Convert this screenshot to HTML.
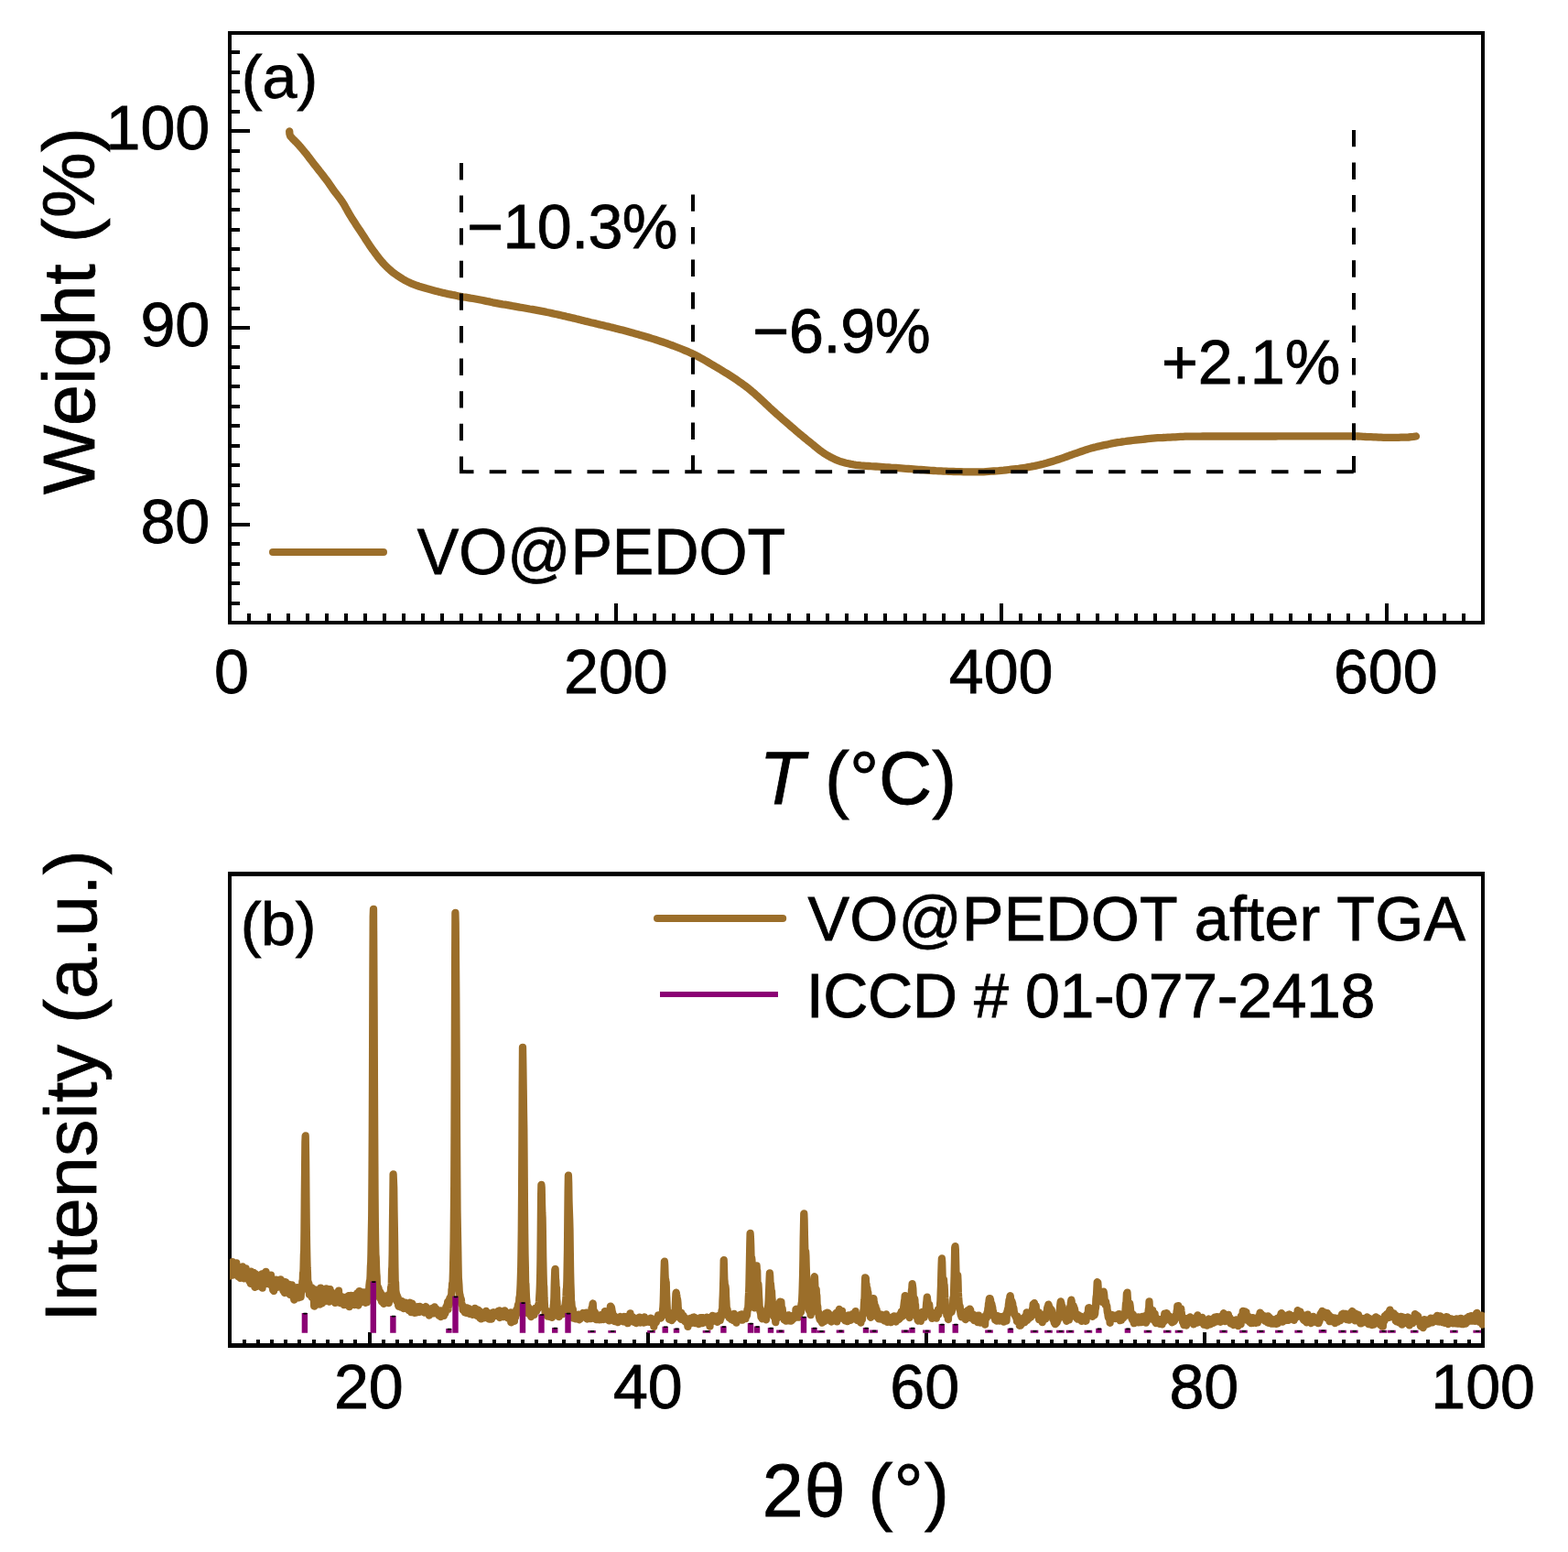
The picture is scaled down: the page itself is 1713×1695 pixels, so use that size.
<!DOCTYPE html>
<html lang="en">
<head>
<meta charset="utf-8">
<title>TGA and XRD of VO@PEDOT</title>
<style>
html,body{margin:0;padding:0;background:#fff;}
body{width:1713px;height:1695px;overflow:hidden;}
svg{display:block;}
svg text{font-family:"Liberation Sans", Arial, Helvetica, sans-serif;fill:#000;stroke:#000;stroke-width:0.8px;stroke-linejoin:miter;}
</style>
</head>
<body>
<svg width="1713" height="1695" viewBox="0 0 1713 1695">
<rect width="1713" height="1695" fill="#fff"/>
<g id="panel-a">
<path d="M316.2,143.4 316.4,146.2 317.2,148.7 319.1,150.8 321,152.8 322.9,154.7 324.8,156.7 326.7,158.7 328.5,160.8 330.3,162.9 332,165 333.8,167.1 335.5,169.2 337.1,171.4 338.8,173.6 340.5,175.8 342.1,177.9 343.8,180.1 345.5,182.2 347.2,184.4 348.9,186.6 350.6,188.7 352.3,190.9 354,193.1 355.6,195.2 357.3,197.4 358.9,199.7 360.4,201.9 362,204.2 363.5,206.4 365.1,208.7 366.8,210.8 368.5,213 370.2,215.2 371.8,217.3 373.4,219.6 374.9,221.9 376.3,224.2 377.6,226.6 379,229 380.3,231.4 381.7,233.8 383.1,236.1 384.5,238.5 386,240.8 387.5,243.1 389,245.4 390.5,247.7 392,250 393.5,252.2 395,254.5 396.5,256.8 398,259.1 399.5,261.5 401,263.8 402.5,266.1 404,268.3 405.6,270.6 407.1,272.8 408.8,275 410.4,277.2 412,279.4 413.7,281.6 415.4,283.8 417.2,285.9 419,287.9 420.9,289.9 422.8,291.8 424.8,293.7 426.9,295.5 429,297.3 431.2,298.9 433.4,300.5 435.7,302 438,303.5 440.4,305 442.8,306.4 445.2,307.6 447.7,308.8 450.1,309.9 452.7,310.9 455.2,311.8 457.9,312.7 460.5,313.5 463.1,314.3 465.8,315.1 468.4,315.8 471.1,316.5 473.7,317.2 476.4,317.9 479,318.6 481.7,319.2 484.4,319.9 487,320.5 489.7,321.1 492.4,321.6 495.1,322.2 497.8,322.7 500.4,323.3 503.1,323.8 505.8,324.3 508.5,324.7 511.2,325.1 514,325.6 516.7,326 519.4,326.5 522.1,327 524.7,327.5 527.4,328 530.1,328.6 532.8,329.2 535.5,329.7 538.2,330.3 540.9,330.8 543.6,331.3 546.3,331.8 549,332.3 551.7,332.7 554.4,333.2 557.1,333.7 559.8,334.2 562.5,334.6 565.2,335.1 567.9,335.6 570.6,336 573.3,336.5 576,337 578.7,337.5 581.4,337.9 584.1,338.4 586.7,338.9 589.4,339.4 592.1,339.9 594.8,340.4 597.5,341 600.2,341.5 602.9,342.1 605.5,342.7 608.2,343.3 610.9,343.9 613.6,344.5 616.2,345.1 618.9,345.8 621.6,346.4 624.3,347 626.9,347.6 629.6,348.3 632.3,348.9 634.9,349.6 637.6,350.2 640.2,350.9 642.9,351.5 645.6,352.2 648.2,352.8 650.9,353.4 653.6,354.1 656.2,354.7 658.9,355.3 661.6,356 664.2,356.6 666.9,357.3 669.6,357.9 672.2,358.6 674.9,359.2 677.5,359.9 680.2,360.6 682.8,361.3 685.5,362 688.1,362.7 690.8,363.4 693.4,364.2 696.1,364.9 698.7,365.7 701.3,366.4 703.9,367.2 706.6,368 709.2,368.8 711.8,369.6 714.4,370.4 717.1,371.3 719.7,372.1 722.3,373 724.9,373.8 727.4,374.7 730,375.7 732.6,376.6 735.2,377.5 737.7,378.5 740.3,379.5 742.9,380.5 745.4,381.5 748,382.6 750.5,383.6 753,384.8 755.5,385.9 757.9,387 760.4,388.3 762.8,389.5 765.2,390.8 767.6,392.1 770,393.5 772.4,394.9 774.8,396.3 777.1,397.7 779.5,399.1 781.8,400.5 784.2,401.9 786.5,403.3 788.9,404.8 791.2,406.2 793.6,407.6 795.9,409.1 798.2,410.6 800.5,412.1 802.8,413.6 805.1,415.1 807.3,416.7 809.6,418.2 811.8,419.8 814,421.4 816.2,423.1 818.3,424.8 820.4,426.5 822.5,428.3 824.6,430 826.6,431.9 828.6,433.7 830.7,435.6 832.7,437.4 834.7,439.3 836.7,441.2 838.7,443.1 840.7,445 842.7,446.8 844.7,448.7 846.8,450.5 848.8,452.4 850.9,454.2 853,456 855,457.8 857.1,459.6 859.2,461.4 861.2,463.2 863.3,465 865.4,466.8 867.5,468.5 869.5,470.3 871.6,472.1 873.7,473.9 875.8,475.6 877.9,477.4 880.1,479.1 882.2,480.9 884.3,482.6 886.4,484.3 888.6,486 890.7,487.8 892.8,489.5 895,491.3 897.2,492.9 899.4,494.5 901.7,496 904,497.3 906.4,498.7 908.9,500 911.4,501.2 913.9,502.4 916.4,503.4 919,504.3 921.6,505 924.2,505.7 926.9,506.3 929.6,506.9 932.3,507.4 935.1,507.8 937.8,508.1 940.5,508.4 943.2,508.6 946,508.8 948.7,509 951.4,509.2 954.2,509.3 956.9,509.5 959.6,509.7 962.4,509.9 965.1,510.1 967.8,510.3 970.6,510.5 973.3,510.7 976.1,510.8 978.8,511 981.5,511.2 984.3,511.4 987,511.6 989.7,511.8 992.5,512 995.2,512.2 997.9,512.4 1000.7,512.6 1003.4,512.8 1006.1,513 1008.9,513.2 1011.6,513.4 1014.3,513.6 1017.1,513.8 1019.8,514 1022.5,514.2 1025.3,514.3 1028,514.4 1030.7,514.6 1033.5,514.7 1036.2,514.8 1039,514.9 1041.7,515 1044.4,515.1 1047.2,515.2 1049.9,515.2 1052.7,515.3 1055.4,515.3 1058.1,515.3 1060.9,515.4 1063.6,515.4 1066.4,515.4 1069.1,515.4 1071.8,515.4 1074.6,515.3 1077.3,515.1 1080.1,514.9 1082.8,514.7 1085.5,514.5 1088.3,514.3 1091,514.1 1093.7,513.8 1096.4,513.6 1099.2,513.3 1101.9,513 1104.6,512.7 1107.4,512.4 1110.1,512.1 1112.8,511.8 1115.5,511.4 1118.2,511 1120.9,510.6 1123.6,510.1 1126.3,509.7 1129,509.2 1131.7,508.6 1134.4,508 1137.1,507.4 1139.7,506.8 1142.4,506.1 1145,505.3 1147.6,504.5 1150.3,503.7 1152.9,502.9 1155.5,502 1158.1,501.2 1160.7,500.3 1163.3,499.4 1165.8,498.5 1168.4,497.5 1171,496.6 1173.6,495.7 1176.2,494.8 1178.8,493.9 1181.4,493 1184,492.1 1186.6,491.2 1189.2,490.4 1191.8,489.6 1194.4,488.9 1197.1,488.3 1199.8,487.6 1202.4,487 1205.1,486.4 1207.8,485.8 1210.5,485.3 1213.2,484.7 1215.9,484.2 1218.6,483.7 1221.3,483.2 1224,482.8 1226.7,482.3 1229.4,482 1232.1,481.6 1234.8,481.3 1237.5,481 1240.3,480.7 1243,480.4 1245.7,480.1 1248.4,479.8 1251.2,479.5 1253.9,479.2 1256.6,478.9 1259.3,478.6 1262.1,478.4 1264.8,478.2 1267.5,478.1 1270.3,478 1273,477.8 1275.8,477.7 1278.5,477.6 1281.2,477.4 1284,477.3 1286.7,477.1 1289.5,476.9 1292.2,476.8 1294.9,476.7 1297.7,476.6 1300.4,476.6 1303.1,476.6 1305.9,476.6 1308.6,476.6 1311.4,476.6 1314.1,476.5 1316.8,476.5 1319.6,476.5 1322.3,476.5 1325.1,476.5 1327.8,476.5 1330.6,476.5 1333.3,476.5 1336,476.5 1338.8,476.5 1341.5,476.5 1344.3,476.5 1347,476.5 1349.7,476.5 1352.5,476.5 1355.2,476.5 1358,476.5 1360.7,476.5 1363.4,476.5 1366.2,476.5 1368.9,476.5 1371.7,476.5 1374.4,476.5 1377.2,476.5 1379.9,476.5 1382.6,476.5 1385.4,476.5 1388.1,476.5 1390.9,476.5 1393.6,476.5 1396.3,476.4 1399.1,476.4 1401.8,476.4 1404.6,476.4 1407.3,476.4 1410.1,476.4 1412.8,476.4 1415.5,476.4 1418.3,476.4 1421,476.4 1423.8,476.4 1426.5,476.4 1429.2,476.4 1432,476.4 1434.7,476.4 1437.5,476.4 1440.2,476.4 1442.9,476.4 1445.7,476.4 1448.4,476.4 1451.2,476.4 1453.9,476.4 1456.6,476.4 1459.4,476.4 1462.1,476.4 1464.9,476.4 1467.6,476.4 1470.3,476.4 1473.1,476.4 1475.8,476.4 1478.6,476.4 1481.3,476.4 1484,476.5 1486.8,476.6 1489.5,476.8 1492.3,477 1495,477.1 1497.7,477.2 1500.5,477.3 1503.2,477.4 1506,477.6 1508.7,477.7 1511.4,477.8 1514.2,477.8 1516.9,477.9 1519.7,477.9 1522.4,477.9 1525.1,477.9 1527.9,477.8 1530.6,477.7 1533.4,477.7 1536.1,477.6 1538.8,477.5 1541.6,477.2 1544.3,476.9 1547,476.5" fill="none" stroke="#9B6E2A" stroke-width="8.3" stroke-linecap="round" stroke-linejoin="round"/>
<path d="M504,178 V517.2" fill="none" stroke="#000" stroke-width="4" stroke-dasharray="18.4 17.2"/>
<path d="M757,212.4 V517.2" fill="none" stroke="#000" stroke-width="4" stroke-dasharray="18.4 17.2"/>
<path d="M1479,141.9 V517.2" fill="none" stroke="#000" stroke-width="4" stroke-dasharray="18.4 17.2"/>
<path d="M502,515.2 H1481" fill="none" stroke="#000" stroke-width="4" stroke-dasharray="18.4 17.2" stroke-dashoffset="2.9"/>
<path d="M272,680 v-10 M294,680 v-10 M315,680 v-10 M336,680 v-10 M357,680 v-10 M378,680 v-10 M399,680 v-10 M420,680 v-10 M441,680 v-10 M462,680 v-10 M483,680 v-10 M504,680 v-10 M525,680 v-10 M546,680 v-10 M567,680 v-10 M588,680 v-10 M609,680 v-10 M631,680 v-10 M652,680 v-10 M673,680 v-21 M694,680 v-10 M715,680 v-10 M736,680 v-10 M757,680 v-10 M778,680 v-10 M799,680 v-10 M820,680 v-10 M841,680 v-10 M862,680 v-10 M883,680 v-10 M904,680 v-10 M925,680 v-10 M946,680 v-10 M967,680 v-10 M989,680 v-10 M1010,680 v-10 M1031,680 v-10 M1052,680 v-10 M1073,680 v-10 M1094,680 v-21 M1115,680 v-10 M1136,680 v-10 M1157,680 v-10 M1178,680 v-10 M1199,680 v-10 M1220,680 v-10 M1241,680 v-10 M1262,680 v-10 M1283,680 v-10 M1304,680 v-10 M1326,680 v-10 M1347,680 v-10 M1368,680 v-10 M1389,680 v-10 M1410,680 v-10 M1431,680 v-10 M1452,680 v-10 M1473,680 v-10 M1494,680 v-10 M1515,680 v-21 M1536,680 v-10 M1557,680 v-10 M1578,680 v-10 M1599,680 v-10 M251,659 h11 M251,637 h11 M251,616 h11 M251,594 h11 M251,573 h22 M251,551 h11 M251,530 h11 M251,508 h11 M251,487 h11 M251,465 h11 M251,444 h11 M251,422 h11 M251,401 h11 M251,379 h11 M251,358 h22 M251,337 h11 M251,315 h11 M251,294 h11 M251,272 h11 M251,251 h11 M251,229 h11 M251,208 h11 M251,186 h11 M251,165 h11 M251,143 h22 M251,122 h11 M251,100 h11 M251,79 h11 M251,57 h11" fill="none" stroke="#000" stroke-width="4"/>
<rect x="251" y="36" width="1369" height="644" fill="none" stroke="#000" stroke-width="4"/>
<path d="M298,603 H419" stroke="#9B6E2A" stroke-width="8" stroke-linecap="round"/>
<text transform="translate(455.8,626.9) scale(1,1.027)" font-size="68.2" letter-spacing="-0.05">VO@PEDOT</text>
<text transform="translate(263.8,107.3) scale(1,0.987)" font-size="68.2">(a)</text>
<text transform="translate(510.2,271.3) scale(1,1.012)" font-size="68.2" letter-spacing="-0.58">−10.3%</text>
<text transform="translate(822.3,385.4) scale(1,1.012)" font-size="68.2" letter-spacing="-0.25">−6.9%</text>
<text transform="translate(1268.9,419.4) scale(1,1.012)" font-size="68.2" letter-spacing="0.07">+2.1%</text>
<text transform="translate(233.9,757.4) scale(1,1.012)" font-size="68.2">0</text>
<text transform="translate(616,757.4) scale(1,1.012)" font-size="68.2">200</text>
<text transform="translate(1036.7,757.4) scale(1,1.012)" font-size="68.2">400</text>
<text transform="translate(1456.9,757.4) scale(1,1.012)" font-size="68.2">600</text>
<text transform="translate(153.4,592.7) scale(1,1.012)" font-size="68.2">80</text>
<text transform="translate(153.4,378) scale(1,1.012)" font-size="68.2">90</text>
<text transform="translate(115.5,163.3) scale(1,1.012)" font-size="68.2">100</text>
<text transform="translate(937.3,877.9) scale(1,1.008)" font-size="80.6" text-anchor="middle"><tspan font-style="italic">T</tspan> (°C)</text>
<text transform="translate(103.4,539.9) rotate(-90) scale(1,0.994)" font-size="80.6" letter-spacing="0.42">Weight (%)</text>
</g>
<g id="panel-b">
<clipPath id="cb"><rect x="251" y="954.4" width="1371" height="515"/></clipPath>
<path d="M267,1469.4 v-6.3 M282,1469.4 v-6.3 M297,1469.4 v-6.3 M312,1469.4 v-6.3 M327,1469.4 v-6.3 M343,1469.4 v-6.3 M358,1469.4 v-6.3 M373,1469.4 v-6.3 M388,1469.4 v-6.3 M404,1469.4 v-14.4 M419,1469.4 v-6.3 M434,1469.4 v-6.3 M449,1469.4 v-6.3 M464,1469.4 v-6.3 M480,1469.4 v-6.3 M495,1469.4 v-6.3 M510,1469.4 v-6.3 M525,1469.4 v-6.3 M540,1469.4 v-6.3 M556,1469.4 v-6.3 M571,1469.4 v-6.3 M586,1469.4 v-6.3 M601,1469.4 v-6.3 M616,1469.4 v-6.3 M632,1469.4 v-6.3 M647,1469.4 v-6.3 M662,1469.4 v-6.3 M677,1469.4 v-6.3 M693,1469.4 v-6.3 M708,1469.4 v-14.4 M723,1469.4 v-6.3 M738,1469.4 v-6.3 M753,1469.4 v-6.3 M769,1469.4 v-6.3 M784,1469.4 v-6.3 M799,1469.4 v-6.3 M814,1469.4 v-6.3 M829,1469.4 v-6.3 M845,1469.4 v-6.3 M860,1469.4 v-6.3 M875,1469.4 v-6.3 M890,1469.4 v-6.3 M905,1469.4 v-6.3 M921,1469.4 v-6.3 M936,1469.4 v-6.3 M951,1469.4 v-6.3 M966,1469.4 v-6.3 M982,1469.4 v-6.3 M997,1469.4 v-6.3 M1012,1469.4 v-14.4 M1027,1469.4 v-6.3 M1042,1469.4 v-6.3 M1058,1469.4 v-6.3 M1073,1469.4 v-6.3 M1088,1469.4 v-6.3 M1103,1469.4 v-6.3 M1118,1469.4 v-6.3 M1134,1469.4 v-6.3 M1149,1469.4 v-6.3 M1164,1469.4 v-6.3 M1179,1469.4 v-6.3 M1194,1469.4 v-6.3 M1210,1469.4 v-6.3 M1225,1469.4 v-6.3 M1240,1469.4 v-6.3 M1255,1469.4 v-6.3 M1271,1469.4 v-6.3 M1286,1469.4 v-6.3 M1301,1469.4 v-6.3 M1316,1469.4 v-14.4 M1331,1469.4 v-6.3 M1347,1469.4 v-6.3 M1362,1469.4 v-6.3 M1377,1469.4 v-6.3 M1392,1469.4 v-6.3 M1407,1469.4 v-6.3 M1423,1469.4 v-6.3 M1438,1469.4 v-6.3 M1453,1469.4 v-6.3 M1468,1469.4 v-6.3 M1484,1469.4 v-6.3 M1499,1469.4 v-6.3 M1514,1469.4 v-6.3 M1529,1469.4 v-6.3 M1544,1469.4 v-6.3 M1560,1469.4 v-6.3 M1575,1469.4 v-6.3 M1590,1469.4 v-6.3 M1605,1469.4 v-6.3" fill="none" stroke="#000" stroke-width="4"/>
<path d="M251,952 V1472 M1620,952 V1472" fill="none" stroke="#000" stroke-width="4"/>
<path d="M249,954.5 H1622 M249,1469.5 H1622" fill="none" stroke="#000" stroke-width="5"/>
<path clip-path="url(#cb)" d="M251,1387.7 251.3,1393.5 251.6,1392.9 251.9,1385.3 252.2,1386.1 252.5,1384.9 252.8,1389.4 253.1,1386.4 253.4,1389.5 253.7,1378.1 254,1392.5 254.3,1385.1 254.7,1388.2 255,1384.5 255.3,1383.4 255.6,1387 255.9,1388.5 256.2,1384.3 256.5,1384.7 256.8,1388.5 257.1,1382.2 257.4,1379.8 257.7,1388.3 258,1384.2 258.3,1379.5 258.6,1384.6 258.9,1386.6 259.2,1384 259.5,1383.2 259.8,1390.1 260.1,1394 260.4,1389.7 260.7,1387.8 261,1392.7 261.3,1394.3 261.6,1390.2 262,1393.7 262.3,1395.8 262.6,1390.5 262.9,1387.9 263.2,1392.5 263.5,1392 263.8,1395.3 264.1,1385.3 264.4,1387.8 264.7,1387 265,1383.3 265.3,1390.9 265.6,1392.5 265.9,1387.5 266.2,1396.3 266.5,1394.2 266.8,1393.7 267.1,1393 267.4,1395.5 267.7,1386.5 268,1394.6 268.3,1394.8 268.6,1385.5 268.9,1394.2 269.3,1392.1 269.6,1396.4 269.9,1391.7 270.2,1393.7 270.5,1395.3 270.8,1390.7 271.1,1396.7 271.4,1394.1 271.7,1396.6 272,1392.6 272.3,1399.1 272.6,1397.2 272.9,1394.1 273.2,1397.3 273.5,1399.8 273.8,1401.9 274.1,1388.6 274.4,1398.4 274.7,1396.8 275,1394.7 275.3,1391.2 275.6,1400.2 275.9,1390.5 276.3,1397.9 276.6,1401 276.9,1389.9 277.2,1395.3 277.5,1391.7 277.8,1398.1 278.1,1403.4 278.4,1405.8 278.7,1391.2 279,1396.3 279.3,1401.6 279.6,1405.2 279.9,1401 280.2,1396.6 280.5,1400.8 280.8,1399.7 281.1,1399 281.4,1396.9 281.7,1401.2 282,1400.8 282.3,1399.1 282.6,1398.4 282.9,1394.1 283.2,1397 283.6,1403.2 283.9,1397.6 284.2,1392.5 284.5,1403 284.8,1399.7 285.1,1405.5 285.4,1397.5 285.7,1395.4 286,1391.5 286.3,1402 286.6,1406.7 286.9,1393.7 287.2,1394.4 287.5,1399.2 287.8,1393.8 288.1,1396 288.4,1395.7 288.7,1397.8 289,1401.2 289.3,1397.1 289.6,1400.5 289.9,1395.4 290.2,1398.2 290.5,1388.8 290.9,1391.4 291.2,1399.9 291.5,1394.6 291.8,1399.1 292.1,1399.1 292.4,1402.1 292.7,1400.3 293,1401.3 293.3,1397.2 293.6,1395.2 293.9,1395.3 294.2,1396.4 294.5,1394.3 294.8,1396.7 295.1,1398.7 295.4,1400.2 295.7,1398.3 296,1392.7 296.3,1399.8 296.6,1401.2 296.9,1404.7 297.2,1403 297.5,1398.7 297.9,1398.6 298.2,1408.9 298.5,1404.5 298.8,1408.6 299.1,1409.9 299.4,1399.2 299.7,1403.8 300,1404.2 300.3,1404.7 300.6,1404.8 300.9,1403.7 301.2,1403.7 301.5,1397.6 301.8,1402.5 302.1,1400.4 302.4,1403.6 302.7,1401.4 303,1405.3 303.3,1405.9 303.6,1403.9 303.9,1403.8 304.2,1402.8 304.5,1400.7 304.8,1401.6 305.2,1400.3 305.5,1403.4 305.8,1402.1 306.1,1404.1 306.4,1397.3 306.7,1405.4 307,1399.6 307.3,1399.9 307.6,1402.2 307.9,1401.1 308.2,1404.6 308.5,1401.8 308.8,1400.3 309.1,1401.5 309.4,1409.6 309.7,1405.2 310,1401.1 310.3,1405.5 310.6,1399.9 310.9,1412 311.2,1400.1 311.5,1407.3 311.8,1407.5 312.1,1400.4 312.5,1406.7 312.8,1409.1 313.1,1407.2 313.4,1406.5 313.7,1408.9 314,1406.2 314.3,1406.9 314.6,1405.3 314.9,1408.2 315.2,1402.7 315.5,1409.2 315.8,1404.8 316.1,1403.1 316.4,1408.8 316.7,1414 317,1411.9 317.3,1407.1 317.6,1412 317.9,1408.4 318.2,1410.2 318.5,1411.5 318.8,1403.3 319.1,1412.7 319.4,1408.7 319.8,1410.2 320.1,1407.7 320.4,1407.8 320.7,1410.1 321,1416.5 321.3,1419.5 321.6,1413.4 321.9,1417.3 322.2,1412.3 322.5,1406.2 322.8,1413.3 323.1,1414.1 323.4,1410.7 323.7,1413.1 324,1413.8 324.3,1408.5 324.6,1406.2 324.9,1410.6 325.2,1410.5 325.5,1409.9 325.8,1414.7 326.1,1417.4 326.4,1409.6 326.8,1413.6 327.1,1414.4 327.4,1413.4 327.7,1414.4 328,1408.8 328.3,1412.4 328.6,1416.6 328.9,1411.4 329.2,1405.3 329.5,1408.7 329.8,1409.8 330.1,1404.8 330.4,1399.2 330.7,1404.6 331,1390.5 331.3,1392.6 331.6,1384.2 331.9,1370.3 332.2,1366.5 332.5,1342.5 332.8,1306.1 333.1,1278 333.4,1247.1 333.7,1240.5 334.1,1267.8 334.4,1304.2 334.7,1336.4 335,1357.2 335.3,1372.3 335.6,1384.5 335.9,1389.1 336.2,1399.6 336.5,1399.5 336.8,1402.9 337.1,1406.1 337.4,1402 337.7,1404.7 338,1414 338.3,1410.5 338.6,1409 338.9,1411.8 339.2,1409.3 339.5,1412.4 339.8,1409.3 340.1,1412.9 340.4,1406.5 340.7,1416.9 341,1410.6 341.4,1407 341.7,1412 342,1411.7 342.3,1413.7 342.6,1409.5 342.9,1415.1 343.2,1426.6 343.5,1409.9 343.8,1415.7 344.1,1413.6 344.4,1415.5 344.7,1408.7 345,1411 345.3,1416.6 345.6,1414.8 345.9,1420.5 346.2,1412.4 346.5,1415.4 346.8,1424.7 347.1,1412.2 347.4,1411.7 347.7,1414.7 348,1414.7 348.4,1417.8 348.7,1415.5 349,1412.6 349.3,1416.1 349.6,1424.5 349.9,1420.1 350.2,1406.6 350.5,1415.7 350.8,1413.4 351.1,1418.6 351.4,1416.1 351.7,1423.3 352,1420.1 352.3,1420 352.6,1417.7 352.9,1417 353.2,1418.4 353.5,1421.6 353.8,1419 354.1,1416 354.4,1421.5 354.7,1417.8 355,1416.8 355.3,1414.4 355.7,1415 356,1414.7 356.3,1407.4 356.6,1420.1 356.9,1418.5 357.2,1415.8 357.5,1419.9 357.8,1417.8 358.1,1417.4 358.4,1407.8 358.7,1415.1 359,1417.5 359.3,1421 359.6,1421.7 359.9,1420.2 360.2,1411.6 360.5,1408.2 360.8,1417.5 361.1,1415.8 361.4,1419 361.7,1415.5 362,1416.9 362.3,1411.4 362.6,1418 363,1415.3 363.3,1418.1 363.6,1418.6 363.9,1416.8 364.2,1418.4 364.5,1417.4 364.8,1420 365.1,1419.1 365.4,1415.6 365.7,1415.3 366,1422.9 366.3,1416.6 366.6,1420 366.9,1417.9 367.2,1414.6 367.5,1413.9 367.8,1416.7 368.1,1417.2 368.4,1418.5 368.7,1412.4 369,1414.8 369.3,1416.6 369.6,1422.4 370,1409.6 370.3,1418.9 370.6,1415.8 370.9,1419.1 371.2,1416.2 371.5,1419.1 371.8,1423.1 372.1,1419.3 372.4,1419.7 372.7,1419.7 373,1416.2 373.3,1420.6 373.6,1418.4 373.9,1416.6 374.2,1419.3 374.5,1418.9 374.8,1422.3 375.1,1419.9 375.4,1418.5 375.7,1425.1 376,1423.7 376.3,1424.8 376.6,1422.8 376.9,1420.6 377.3,1419.7 377.6,1420.2 377.9,1424.2 378.2,1421.5 378.5,1416.4 378.8,1421 379.1,1416.5 379.4,1421.6 379.7,1417.1 380,1416.8 380.3,1421.2 380.6,1420.4 380.9,1415.1 381.2,1422.7 381.5,1427.1 381.8,1415.2 382.1,1425.7 382.4,1417.6 382.7,1418.1 383,1419 383.3,1414.9 383.6,1423.7 383.9,1421.2 384.2,1417.3 384.6,1418.9 384.9,1415.2 385.2,1419.1 385.5,1423.4 385.8,1415.1 386.1,1419.3 386.4,1421.2 386.7,1424.1 387,1425 387.3,1419 387.6,1417.9 387.9,1421.5 388.2,1418.6 388.5,1418.5 388.8,1422.7 389.1,1424.3 389.4,1419.6 389.7,1418 390,1420.3 390.3,1412.3 390.6,1418.1 390.9,1414.8 391.2,1425.6 391.6,1420.3 391.9,1418.5 392.2,1417.4 392.5,1410.1 392.8,1420.3 393.1,1423.2 393.4,1415.7 393.7,1420 394,1420 394.3,1412.6 394.6,1420.2 394.9,1421.3 395.2,1417.5 395.5,1416.4 395.8,1419 396.1,1411.7 396.4,1416.9 396.7,1420.1 397,1413.1 397.3,1420.5 397.6,1416.3 397.9,1411.4 398.2,1418.1 398.5,1415.7 398.9,1420.1 399.2,1415.7 399.5,1422.9 399.8,1417.2 400.1,1420.6 400.4,1417.4 400.7,1417.9 401,1422.2 401.3,1418.3 401.6,1415.5 401.9,1411.7 402.2,1418.3 402.5,1415.5 402.8,1410.5 403.1,1410.5 403.4,1404.1 403.7,1401.5 404,1398.8 404.3,1398.7 404.6,1393.3 404.9,1383 405.2,1379.3 405.5,1367.5 405.8,1348.6 406.2,1327.7 406.5,1286.8 406.8,1233.6 407.1,1158.2 407.4,1062.5 407.7,1001.1 408,992.9 408.3,1047.3 408.6,1101.4 408.9,1181.1 409.2,1243.6 409.5,1299.6 409.8,1334.5 410.1,1355.8 410.4,1370.3 410.7,1373.2 411,1383.9 411.3,1390.9 411.6,1394 411.9,1404.1 412.2,1403.9 412.5,1405.5 412.8,1408.9 413.2,1405.9 413.5,1407.3 413.8,1408.5 414.1,1413.6 414.4,1414 414.7,1415.5 415,1417.7 415.3,1411.2 415.6,1414.2 415.9,1416.8 416.2,1413 416.5,1415.9 416.8,1420.8 417.1,1421.5 417.4,1421.8 417.7,1419.2 418,1418.8 418.3,1422.7 418.6,1418.8 418.9,1421 419.2,1423.8 419.5,1419.2 419.8,1418.5 420.1,1420.1 420.5,1421.8 420.8,1421.4 421.1,1420.4 421.4,1421.5 421.7,1415.5 422,1417.4 422.3,1420.1 422.6,1417 422.9,1415.8 423.2,1416 423.5,1416.7 423.8,1418.6 424.1,1416.1 424.4,1419.3 424.7,1423 425,1417.8 425.3,1421.2 425.6,1418 425.9,1413.4 426.2,1414.7 426.5,1411.3 426.8,1414.1 427.1,1406.1 427.4,1409.3 427.8,1401.9 428.1,1386.8 428.4,1383.4 428.7,1368.5 429,1336.4 429.3,1312 429.6,1282.4 429.9,1290 430.2,1296.9 430.5,1322.3 430.8,1339.2 431.1,1359.1 431.4,1384.4 431.7,1400.8 432,1400.4 432.3,1409.4 432.6,1411.2 432.9,1412.8 433.2,1417.2 433.5,1421.3 433.8,1415.2 434.1,1420.7 434.4,1421 434.8,1417.3 435.1,1425.4 435.4,1426.6 435.7,1419.9 436,1426.8 436.3,1423 436.6,1422.7 436.9,1426.9 437.2,1424.1 437.5,1424.6 437.8,1427.6 438.1,1427.2 438.4,1426.5 438.7,1421.3 439,1421.1 439.3,1427.5 439.6,1422.9 439.9,1425.5 440.2,1422.8 440.5,1424.9 440.8,1422.4 441.1,1429.1 441.4,1423.2 441.7,1425.3 442.1,1425.3 442.4,1428.5 442.7,1422.7 443,1425.9 443.3,1425.5 443.6,1427.1 443.9,1427 444.2,1424.9 444.5,1426.4 444.8,1425 445.1,1426.9 445.4,1425.7 445.7,1424.6 446,1426 446.3,1427 446.6,1431.2 446.9,1425.4 447.2,1427.4 447.5,1430.1 447.8,1422.7 448.1,1423.6 448.4,1425 448.7,1427.5 449,1433.1 449.4,1428.9 449.7,1430.9 450,1428.1 450.3,1423.6 450.6,1424.1 450.9,1431.3 451.2,1429.8 451.5,1426.9 451.8,1432.3 452.1,1427 452.4,1432.9 452.7,1433.8 453,1429.5 453.3,1429 453.6,1433.3 453.9,1429.4 454.2,1433.6 454.5,1429.4 454.8,1433.5 455.1,1431.9 455.4,1430.7 455.7,1429.6 456,1431.7 456.3,1427.1 456.7,1430.1 457,1429.6 457.3,1431.5 457.6,1427.3 457.9,1433 458.2,1428.7 458.5,1426.8 458.8,1431.8 459.1,1432.3 459.4,1428.6 459.7,1427.2 460,1429.1 460.3,1427.7 460.6,1428.6 460.9,1432.4 461.2,1430.1 461.5,1429.6 461.8,1429.9 462.1,1429 462.4,1430.7 462.7,1430.6 463,1428 463.3,1428.9 463.7,1433.5 464,1429.5 464.3,1428.4 464.6,1433 464.9,1429 465.2,1427 465.5,1430.7 465.8,1427.9 466.1,1428.9 466.4,1430.9 466.7,1430.4 467,1429.5 467.3,1430.3 467.6,1430.6 467.9,1434.4 468.2,1430.9 468.5,1431.4 468.8,1436.6 469.1,1431.5 469.4,1435.5 469.7,1435 470,1432 470.3,1429.3 470.6,1432.7 471,1432.9 471.3,1433.3 471.6,1431.3 471.9,1433.3 472.2,1433.6 472.5,1428.7 472.8,1433.4 473.1,1430.9 473.4,1429.4 473.7,1430 474,1434.3 474.3,1432.7 474.6,1427.5 474.9,1431.3 475.2,1431.1 475.5,1431.2 475.8,1430.8 476.1,1429.2 476.4,1433.9 476.7,1430.6 477,1431.9 477.3,1431.7 477.6,1431.8 477.9,1435 478.3,1434.6 478.6,1432.9 478.9,1432.6 479.2,1433.8 479.5,1436.8 479.8,1435.3 480.1,1435.6 480.4,1434.6 480.7,1434.7 481,1435.6 481.3,1431.5 481.6,1438.1 481.9,1433.4 482.2,1433.7 482.5,1437.3 482.8,1435.1 483.1,1434.6 483.4,1433.4 483.7,1431.4 484,1434.8 484.3,1436.8 484.6,1432.6 484.9,1436.9 485.3,1431.9 485.6,1432.4 485.9,1434.6 486.2,1433.2 486.5,1434.1 486.8,1430.7 487.1,1429.5 487.4,1427.2 487.7,1427.7 488,1427.1 488.3,1425.5 488.6,1428 488.9,1425.1 489.2,1421.6 489.5,1429.9 489.8,1422.5 490.1,1421 490.4,1425.5 490.7,1424.8 491,1419.5 491.3,1418.1 491.6,1418.3 491.9,1421.8 492.2,1417.8 492.6,1415.5 492.9,1415.6 493.2,1416.3 493.5,1408.5 493.8,1407.8 494.1,1401.9 494.4,1404.8 494.7,1397.7 495,1387.2 495.3,1372.7 495.6,1357.6 495.9,1326.1 496.2,1294.8 496.5,1234.6 496.8,1153.5 497.1,1059 497.4,996.9 497.7,1008.4 498,1049.3 498.3,1088.7 498.6,1143 498.9,1218.1 499.2,1276.1 499.5,1321.8 499.9,1345.6 500.2,1361 500.5,1380 500.8,1395.7 501.1,1399.2 501.4,1403.3 501.7,1409.8 502,1412.2 502.3,1414.7 502.6,1414.7 502.9,1417.6 503.2,1419.3 503.5,1418.7 503.8,1418.8 504.1,1422.2 504.4,1424.7 504.7,1424.8 505,1425.2 505.3,1425.9 505.6,1430.7 505.9,1426.8 506.2,1429 506.5,1431.5 506.9,1428.4 507.2,1429.5 507.5,1431.5 507.8,1433.3 508.1,1431.1 508.4,1431.6 508.7,1431.4 509,1429.2 509.3,1433.8 509.6,1431.3 509.9,1428.5 510.2,1431.6 510.5,1428.6 510.8,1430 511.1,1432 511.4,1430.2 511.7,1434 512,1429.1 512.3,1432.5 512.6,1433.1 512.9,1435 513.2,1434.1 513.5,1432.8 513.8,1432.6 514.2,1432.4 514.5,1434.7 514.8,1431.2 515.1,1433.4 515.4,1432.1 515.7,1432.5 516,1431.4 516.3,1435.8 516.6,1430.4 516.9,1431.9 517.2,1431.9 517.5,1432.4 517.8,1432.1 518.1,1432.2 518.4,1433.4 518.7,1429 519,1432.2 519.3,1430.1 519.6,1433.2 519.9,1430.9 520.2,1431.7 520.5,1433.7 520.8,1436.7 521.1,1435.4 521.5,1434.9 521.8,1437.1 522.1,1432.7 522.4,1430.5 522.7,1433.6 523,1433.8 523.3,1436.7 523.6,1438.4 523.9,1432.1 524.2,1439.4 524.5,1437.9 524.8,1436.8 525.1,1436.2 525.4,1440.4 525.7,1436.3 526,1435.5 526.3,1436.9 526.6,1434.3 526.9,1438 527.2,1437 527.5,1437.8 527.8,1437.8 528.1,1435.1 528.5,1439.4 528.8,1434.9 529.1,1438.3 529.4,1433.5 529.7,1437 530,1434.7 530.3,1436.2 530.6,1434.9 530.9,1432 531.2,1434.1 531.5,1436.5 531.8,1437.7 532.1,1434 532.4,1433.1 532.7,1435.7 533,1437.2 533.3,1436.7 533.6,1436.7 533.9,1440 534.2,1440.5 534.5,1440.3 534.8,1437.4 535.1,1439.4 535.4,1438.8 535.8,1436.4 536.1,1440.6 536.4,1438.8 536.7,1437.4 537,1440.6 537.3,1439 537.6,1438.7 537.9,1438.9 538.2,1437.6 538.5,1433.4 538.8,1434.7 539.1,1437 539.4,1433.4 539.7,1434.6 540,1435.1 540.3,1436.9 540.6,1436.6 540.9,1435.8 541.2,1433.8 541.5,1435.8 541.8,1435.2 542.1,1434 542.4,1436.9 542.7,1435.4 543.1,1433.2 543.4,1437 543.7,1434.1 544,1435.7 544.3,1431.8 544.6,1434.6 544.9,1432.9 545.2,1433 545.5,1431.3 545.8,1439 546.1,1434.9 546.4,1435.8 546.7,1437.6 547,1435.4 547.3,1436.7 547.6,1433.4 547.9,1436.4 548.2,1435.4 548.5,1437.2 548.8,1436.7 549.1,1433.9 549.4,1433.2 549.7,1434.9 550.1,1438.2 550.4,1437.6 550.7,1437.5 551,1432.8 551.3,1431.3 551.6,1435 551.9,1435.3 552.2,1434.5 552.5,1436.1 552.8,1435 553.1,1433 553.4,1433.5 553.7,1435.3 554,1435.2 554.3,1435 554.6,1439.5 554.9,1434.9 555.2,1435.9 555.5,1434.1 555.8,1435.6 556.1,1437.7 556.4,1438.2 556.7,1437.4 557,1438.9 557.4,1438.8 557.7,1435.6 558,1433.4 558.3,1444.3 558.6,1441.8 558.9,1440.4 559.2,1437.4 559.5,1438.3 559.8,1443.3 560.1,1435.3 560.4,1439.8 560.7,1441.8 561,1440.1 561.3,1440.8 561.6,1438.6 561.9,1442.8 562.2,1435.6 562.5,1434.3 562.8,1436.8 563.1,1438.3 563.4,1434.8 563.7,1436.2 564,1432.3 564.3,1430.3 564.7,1434.5 565,1434 565.3,1433.1 565.6,1428.3 565.9,1425.8 566.2,1424.6 566.5,1425.2 566.8,1425.3 567.1,1423.3 567.4,1417.1 567.7,1417.7 568,1413.8 568.3,1409.4 568.6,1403.2 568.9,1394.6 569.2,1384.9 569.5,1367.3 569.8,1342.8 570.1,1303.4 570.4,1252.6 570.7,1188.4 571,1143.8 571.3,1161.6 571.7,1190.5 572,1214.5 572.3,1232.6 572.6,1270.2 572.9,1313.6 573.2,1347 573.5,1369.6 573.8,1382.7 574.1,1401.8 574.4,1402.4 574.7,1411 575,1417.5 575.3,1420.4 575.6,1423.5 575.9,1426 576.2,1428.8 576.5,1428.2 576.8,1434.5 577.1,1427.7 577.4,1430.9 577.7,1430.4 578,1430.6 578.3,1432.8 578.6,1435.5 579,1431.7 579.3,1432.1 579.6,1435.2 579.9,1435.2 580.2,1438.1 580.5,1436.5 580.8,1435.1 581.1,1434.1 581.4,1435.1 581.7,1434.3 582,1431.9 582.3,1434.2 582.6,1433.6 582.9,1433.1 583.2,1432.3 583.5,1435.9 583.8,1433.5 584.1,1433.5 584.4,1430.1 584.7,1428.9 585,1430.1 585.3,1430.8 585.6,1429.5 585.9,1429.6 586.3,1431.8 586.6,1430.3 586.9,1427.7 587.2,1428.5 587.5,1427.7 587.8,1428.8 588.1,1425.2 588.4,1425.8 588.7,1425.6 589,1421.5 589.3,1415.6 589.6,1410.5 589.9,1403.5 590.2,1391.6 590.5,1373.1 590.8,1342.9 591.1,1307.3 591.4,1293.9 591.7,1297.2 592,1314.2 592.3,1324.6 592.6,1330.1 592.9,1349 593.2,1372.2 593.6,1392.3 593.9,1403.2 594.2,1405.3 594.5,1417.5 594.8,1423.1 595.1,1428.2 595.4,1429.5 595.7,1434.9 596,1434.3 596.3,1435.3 596.6,1435.5 596.9,1431.7 597.2,1436.7 597.5,1436.8 597.8,1435.1 598.1,1437.5 598.4,1437.4 598.7,1435.9 599,1436.6 599.3,1436.4 599.6,1437.3 599.9,1436.1 600.2,1438 600.6,1433.3 600.9,1436.5 601.2,1433.8 601.5,1436 601.8,1437.8 602.1,1436.7 602.4,1436.3 602.7,1436.3 603,1438.8 603.3,1433.1 603.6,1436.2 603.9,1430.5 604.2,1431.1 604.5,1430.3 604.8,1425.3 605.1,1423 605.4,1417.3 605.7,1403.6 606,1394.6 606.3,1387 606.6,1386 606.9,1395.9 607.2,1398.4 607.5,1405.6 607.9,1406.3 608.2,1419.2 608.5,1421.1 608.8,1430.8 609.1,1431 609.4,1432.8 609.7,1434.7 610,1435.7 610.3,1437.2 610.6,1438.1 610.9,1434.2 611.2,1432.5 611.5,1429.7 611.8,1434 612.1,1436.1 612.4,1435.3 612.7,1434.7 613,1433.8 613.3,1433.1 613.6,1433.7 613.9,1434.9 614.2,1430.6 614.5,1435.3 614.8,1430.8 615.2,1433 615.5,1431.7 615.8,1431.7 616.1,1429.7 616.4,1428.8 616.7,1429.6 617,1426.8 617.3,1432.4 617.6,1425.1 617.9,1422.5 618.2,1420.1 618.5,1415.7 618.8,1408.3 619.1,1406.6 619.4,1398.9 619.7,1381.7 620,1365.2 620.3,1333.6 620.6,1302.7 620.9,1283.7 621.2,1292.2 621.5,1311.6 621.8,1321 622.2,1331.7 622.5,1343.1 622.8,1367.4 623.1,1388.8 623.4,1401.5 623.7,1409.7 624,1420.6 624.3,1421.9 624.6,1425.8 624.9,1427.8 625.2,1433.5 625.5,1432.9 625.8,1429.8 626.1,1436.5 626.4,1439.7 626.7,1439.7 627,1435.7 627.3,1437.4 627.6,1438.7 627.9,1439.8 628.2,1438.5 628.5,1436.7 628.8,1440.4 629.1,1440.3 629.5,1436.7 629.8,1438.5 630.1,1439.7 630.4,1439.1 630.7,1439.9 631,1440.3 631.3,1439.6 631.6,1438.1 631.9,1435.6 632.2,1439.1 632.5,1440.4 632.8,1441.3 633.1,1437.4 633.4,1437.3 633.7,1440.1 634,1440.1 634.3,1438.2 634.6,1439.1 634.9,1436.5 635.2,1439.1 635.5,1436.6 635.8,1437.9 636.1,1437.9 636.4,1437.2 636.8,1434 637.1,1436.2 637.4,1438.2 637.7,1437.3 638,1436.5 638.3,1437.9 638.6,1438.2 638.9,1438.3 639.2,1435.1 639.5,1436.5 639.8,1435.8 640.1,1434.8 640.4,1433.6 640.7,1436.2 641,1434.8 641.3,1440.5 641.6,1436.3 641.9,1436.1 642.2,1435.8 642.5,1440.1 642.8,1434.9 643.1,1436.4 643.4,1435.4 643.8,1436.7 644.1,1437 644.4,1439.2 644.7,1434.5 645,1437.2 645.3,1440.2 645.6,1435.9 645.9,1436 646.2,1433.6 646.5,1428.6 646.8,1430.9 647.1,1430.5 647.4,1425.4 647.7,1423.5 648,1429.5 648.3,1430.2 648.6,1432.4 648.9,1433.2 649.2,1432.7 649.5,1435.9 649.8,1433.1 650.1,1439.6 650.4,1438.6 650.7,1440.7 651.1,1441 651.4,1438.8 651.7,1439.3 652,1438.1 652.3,1436 652.6,1439.6 652.9,1440.2 653.2,1437.9 653.5,1441.2 653.8,1440.1 654.1,1440.7 654.4,1438.4 654.7,1436.6 655,1441.3 655.3,1441 655.6,1439.7 655.9,1439.1 656.2,1439.3 656.5,1439.5 656.8,1438.8 657.1,1435.9 657.4,1441 657.7,1436.7 658,1438.7 658.4,1438.7 658.7,1439.6 659,1436 659.3,1441 659.6,1439.8 659.9,1439.9 660.2,1440.6 660.5,1436.6 660.8,1432.1 661.1,1438.4 661.4,1440.1 661.7,1439.7 662,1436.6 662.3,1437.4 662.6,1438.2 662.9,1434.4 663.2,1436.6 663.5,1436.8 663.8,1441.1 664.1,1437.1 664.4,1441.4 664.7,1438.5 665,1435.3 665.4,1442.4 665.7,1435.8 666,1437.8 666.3,1438.3 666.6,1431.2 666.9,1426.7 667.2,1429.3 667.5,1428.1 667.8,1427.4 668.1,1428.7 668.4,1430.4 668.7,1433.6 669,1432.9 669.3,1436.7 669.6,1440.1 669.9,1440.5 670.2,1441.7 670.5,1442 670.8,1437.2 671.1,1443 671.4,1441.8 671.7,1441.4 672,1440 672.3,1439.4 672.7,1440.5 673,1442.7 673.3,1440.6 673.6,1441.3 673.9,1441.6 674.2,1443.8 674.5,1441.7 674.8,1441.7 675.1,1444.1 675.4,1440.7 675.7,1442 676,1438.6 676.3,1440.9 676.6,1440.3 676.9,1440.3 677.2,1439.1 677.5,1438 677.8,1439.4 678.1,1439.2 678.4,1442.1 678.7,1442.1 679,1438.4 679.3,1442 679.6,1440.1 680,1442 680.3,1440.4 680.6,1438.7 680.9,1443.3 681.2,1442.3 681.5,1439.2 681.8,1438 682.1,1440.5 682.4,1439.2 682.7,1440.7 683,1442.4 683.3,1443.9 683.6,1440.5 683.9,1443.6 684.2,1443.2 684.5,1440.2 684.8,1437.9 685.1,1442.5 685.4,1442 685.7,1445.2 686,1443.4 686.3,1442.2 686.6,1443.7 687,1438.6 687.3,1440.8 687.6,1439.8 687.9,1443.4 688.2,1441.1 688.5,1434.4 688.8,1442.4 689.1,1438.2 689.4,1441.2 689.7,1438.9 690,1440.2 690.3,1440.9 690.6,1440.1 690.9,1438 691.2,1442.3 691.5,1440.6 691.8,1439.9 692.1,1441.4 692.4,1439.4 692.7,1444 693,1441.2 693.3,1441.8 693.6,1442 693.9,1440 694.3,1439.8 694.6,1442.6 694.9,1443.1 695.2,1445.1 695.5,1443.6 695.8,1440.8 696.1,1443.8 696.4,1444.2 696.7,1444.4 697,1443 697.3,1440 697.6,1444.2 697.9,1440.5 698.2,1442.7 698.5,1438.6 698.8,1442.8 699.1,1439.9 699.4,1443.2 699.7,1444.5 700,1443.4 700.3,1439.1 700.6,1439.5 700.9,1439.7 701.2,1442.5 701.6,1441.9 701.9,1441.6 702.2,1441.9 702.5,1442.5 702.8,1442.6 703.1,1444.6 703.4,1441.4 703.7,1442 704,1438.3 704.3,1439.3 704.6,1440.5 704.9,1439.7 705.2,1442.4 705.5,1444 705.8,1441.3 706.1,1441.2 706.4,1441.1 706.7,1442.1 707,1440.8 707.3,1442.4 707.6,1442 707.9,1441.8 708.2,1442.4 708.6,1440.9 708.9,1440.9 709.2,1443.8 709.5,1440.4 709.8,1442 710.1,1440.7 710.4,1439.9 710.7,1440 711,1439.6 711.3,1441.4 711.6,1440.5 711.9,1441.2 712.2,1444.5 712.5,1442.4 712.8,1445.1 713.1,1443.7 713.4,1445.1 713.7,1442.5 714,1444.1 714.3,1448.8 714.6,1445.5 714.9,1445.8 715.2,1444.4 715.5,1445.4 715.9,1441.5 716.2,1441.8 716.5,1443.9 716.8,1444.3 717.1,1441.6 717.4,1441.6 717.7,1440.8 718,1440.7 718.3,1438.4 718.6,1437.6 718.9,1439.7 719.2,1436.3 719.5,1437.5 719.8,1437.9 720.1,1437 720.4,1439.3 720.7,1438 721,1438.6 721.3,1436.9 721.6,1437.3 721.9,1439.6 722.2,1439.1 722.5,1437.2 722.8,1438.2 723.2,1437 723.5,1435.7 723.8,1436.7 724.1,1430.1 724.4,1427.9 724.7,1422.1 725,1412 725.3,1397.5 725.6,1387 725.9,1377.7 726.2,1381.6 726.5,1391.4 726.8,1397.8 727.1,1397.2 727.4,1400 727.7,1400.1 728,1412.5 728.3,1417.5 728.6,1425.8 728.9,1431.9 729.2,1432.6 729.5,1434 729.8,1437.1 730.1,1436.4 730.5,1436.7 730.8,1437 731.1,1440.8 731.4,1439.3 731.7,1439 732,1435.9 732.3,1439.3 732.6,1435.8 732.9,1439.2 733.2,1436.2 733.5,1442 733.8,1435.2 734.1,1440.6 734.4,1439.8 734.7,1434.8 735,1437.5 735.3,1440.4 735.6,1439.5 735.9,1433.8 736.2,1435.4 736.5,1433.3 736.8,1432.4 737.1,1431.5 737.5,1433.8 737.8,1426.5 738.1,1420 738.4,1413.2 738.7,1411.6 739,1413.7 739.3,1415 739.6,1423 739.9,1418.5 740.2,1420.1 740.5,1423.4 740.8,1429.8 741.1,1429.5 741.4,1433.5 741.7,1437.3 742,1437.2 742.3,1438.9 742.6,1439.2 742.9,1438 743.2,1438.9 743.5,1439.5 743.8,1437.8 744.1,1440.8 744.4,1434 744.8,1435.9 745.1,1440.3 745.4,1438.4 745.7,1436.4 746,1438.4 746.3,1439.9 746.6,1437.2 746.9,1440.1 747.2,1438.9 747.5,1439.5 747.8,1440.2 748.1,1443 748.4,1439.5 748.7,1441.4 749,1443.8 749.3,1440.7 749.6,1440.4 749.9,1444.6 750.2,1443.7 750.5,1443.5 750.8,1444 751.1,1441.9 751.4,1448.9 751.7,1441.6 752.1,1442.5 752.4,1440.5 752.7,1442.2 753,1445.6 753.3,1442.6 753.6,1443.5 753.9,1441.4 754.2,1445.4 754.5,1442.3 754.8,1439.6 755.1,1443.3 755.4,1441.1 755.7,1442.8 756,1441.8 756.3,1442 756.6,1441.6 756.9,1439.7 757.2,1438.6 757.5,1443.2 757.8,1441.3 758.1,1442.2 758.4,1441.1 758.7,1438.5 759.1,1440.1 759.4,1445.2 759.7,1441.4 760,1442.4 760.3,1440.5 760.6,1442.4 760.9,1442.8 761.2,1443.1 761.5,1443.3 761.8,1442.3 762.1,1442.3 762.4,1443.3 762.7,1443.8 763,1442.8 763.3,1446.1 763.6,1443.1 763.9,1442.9 764.2,1441.2 764.5,1444.1 764.8,1440.3 765.1,1439.1 765.4,1440.3 765.7,1443.2 766,1440 766.4,1444.4 766.7,1442 767,1439.2 767.3,1441.5 767.6,1445.1 767.9,1440.1 768.2,1439.1 768.5,1442.3 768.8,1443.6 769.1,1442.9 769.4,1440.3 769.7,1441.1 770,1441.2 770.3,1442.6 770.6,1444.2 770.9,1440 771.2,1442.5 771.5,1439.5 771.8,1441.3 772.1,1438.7 772.4,1439.2 772.7,1441.7 773,1439.6 773.3,1443.2 773.7,1441 774,1442.4 774.3,1442.4 774.6,1442.1 774.9,1443.1 775.2,1444.9 775.5,1448.7 775.8,1440.7 776.1,1443.4 776.4,1442.3 776.7,1440.6 777,1442.5 777.3,1440.1 777.6,1441.2 777.9,1443.3 778.2,1437 778.5,1440.9 778.8,1441.1 779.1,1438.3 779.4,1441 779.7,1440.6 780,1439.3 780.3,1442.3 780.7,1437.7 781,1441.4 781.3,1439.9 781.6,1438.5 781.9,1440.2 782.2,1439.9 782.5,1442.2 782.8,1437.9 783.1,1440.4 783.4,1440 783.7,1443.8 784,1438.9 784.3,1443 784.6,1437.7 784.9,1441.5 785.2,1440.5 785.5,1441.3 785.8,1439.1 786.1,1436.5 786.4,1436.9 786.7,1442 787,1439.4 787.3,1436.8 787.6,1439.4 788,1435.2 788.3,1433.9 788.6,1431.1 788.9,1433.4 789.2,1431.4 789.5,1420.1 789.8,1414.6 790.1,1404.5 790.4,1393.6 790.7,1376.2 791,1386.3 791.3,1397.3 791.6,1399.7 791.9,1405.6 792.2,1403.7 792.5,1405 792.8,1407.6 793.1,1417.3 793.4,1421.4 793.7,1428.1 794,1430 794.3,1430.8 794.6,1430 794.9,1436.8 795.3,1436.4 795.6,1436.4 795.9,1433.9 796.2,1434.9 796.5,1439 796.8,1437.7 797.1,1435 797.4,1437.1 797.7,1437.7 798,1437.4 798.3,1436.4 798.6,1440.8 798.9,1439.9 799.2,1438.6 799.5,1436.3 799.8,1438.3 800.1,1439.5 800.4,1441.3 800.7,1439.1 801,1441.9 801.3,1440.2 801.6,1438.6 801.9,1434.9 802.3,1437.9 802.6,1437.4 802.9,1439.9 803.2,1440.8 803.5,1442.8 803.8,1440.2 804.1,1438.1 804.4,1444.7 804.7,1440.8 805,1439.7 805.3,1439.5 805.6,1437.3 805.9,1440.8 806.2,1440.1 806.5,1442.1 806.8,1441 807.1,1440.3 807.4,1440.9 807.7,1437.9 808,1437.5 808.3,1438.2 808.6,1436 808.9,1438.2 809.2,1437.9 809.6,1439.9 809.9,1438.7 810.2,1435.3 810.5,1439 810.8,1441.7 811.1,1435.6 811.4,1437.6 811.7,1439.1 812,1436.5 812.3,1438 812.6,1439.1 812.9,1436.4 813.2,1439.3 813.5,1439.4 813.8,1436.1 814.1,1438.4 814.4,1440.2 814.7,1437.5 815,1438.3 815.3,1438.1 815.6,1435.6 815.9,1437 816.2,1434.5 816.5,1430.1 816.9,1430.9 817.2,1428.7 817.5,1424.8 817.8,1416.7 818.1,1412 818.4,1404.3 818.7,1388.8 819,1374.7 819.3,1358.8 819.6,1347 819.9,1351.8 820.2,1359.7 820.5,1371.8 820.8,1373.6 821.1,1373.5 821.4,1376.1 821.7,1382 822,1392.7 822.3,1402.6 822.6,1407 822.9,1413.8 823.2,1419.7 823.5,1422.3 823.9,1422.8 824.2,1428.3 824.5,1424.6 824.8,1420.4 825.1,1419 825.4,1415.4 825.7,1406.2 826,1392.4 826.3,1387.2 826.6,1382.4 826.9,1389.7 827.2,1387.9 827.5,1401.5 827.8,1401.1 828.1,1404.3 828.4,1402.6 828.7,1407.3 829,1415.4 829.3,1419.5 829.6,1426.6 829.9,1428.1 830.2,1430.2 830.5,1432.6 830.8,1433.4 831.2,1435.1 831.5,1438.6 831.8,1434.2 832.1,1433.5 832.4,1436.9 832.7,1440.3 833,1439.1 833.3,1439.7 833.6,1439.6 833.9,1435.9 834.2,1437.6 834.5,1432.3 834.8,1436.2 835.1,1438.4 835.4,1434.2 835.7,1433.1 836,1434.4 836.3,1437.2 836.6,1438.8 836.9,1441.3 837.2,1438.8 837.5,1432.6 837.8,1430.5 838.1,1434.5 838.5,1435.1 838.8,1428.1 839.1,1427.7 839.4,1424.3 839.7,1420.1 840,1412.6 840.3,1405.1 840.6,1397.3 840.9,1390.4 841.2,1393.9 841.5,1402.6 841.8,1401.5 842.1,1404.2 842.4,1407.9 842.7,1410.9 843,1409.9 843.3,1416.8 843.6,1419.4 843.9,1426.5 844.2,1426.9 844.5,1432.1 844.8,1433.5 845.1,1435 845.5,1438.1 845.8,1438.4 846.1,1436 846.4,1439.4 846.7,1435 847,1440.5 847.3,1444.1 847.6,1439.9 847.9,1439.9 848.2,1439 848.5,1440.3 848.8,1437.6 849.1,1439.4 849.4,1437.2 849.7,1436.4 850,1436.7 850.3,1435.3 850.6,1430.7 850.9,1436.3 851.2,1429.9 851.5,1423.1 851.8,1425.5 852.1,1421.7 852.4,1422.9 852.8,1426.2 853.1,1425 853.4,1421.9 853.7,1427.8 854,1428.5 854.3,1430.8 854.6,1429 854.9,1432 855.2,1435 855.5,1435 855.8,1436.1 856.1,1437.8 856.4,1436.1 856.7,1441.5 857,1437.2 857.3,1439.4 857.6,1439 857.9,1438.5 858.2,1441 858.5,1441.9 858.8,1442.7 859.1,1441 859.4,1439 859.7,1441.3 860.1,1436.8 860.4,1439.4 860.7,1440.2 861,1440.2 861.3,1436.9 861.6,1436.3 861.9,1442.3 862.2,1438.4 862.5,1436.5 862.8,1437.5 863.1,1440.1 863.4,1442.4 863.7,1440.4 864,1442.7 864.3,1441 864.6,1441.4 864.9,1442.3 865.2,1439.7 865.5,1440.8 865.8,1439.2 866.1,1438.4 866.4,1440.5 866.7,1437.3 867,1438.5 867.4,1436.5 867.7,1437.3 868,1436.1 868.3,1438.7 868.6,1436.4 868.9,1436.1 869.2,1438.8 869.5,1430 869.8,1433.2 870.1,1430 870.4,1435.1 870.7,1435.9 871,1436.4 871.3,1435.7 871.6,1433.6 871.9,1438.7 872.2,1436 872.5,1435 872.8,1433.3 873.1,1436.1 873.4,1434.1 873.7,1433.8 874,1434.4 874.4,1433.5 874.7,1430.3 875,1432.9 875.3,1426.4 875.6,1423.6 875.9,1423.2 876.2,1418.4 876.5,1412.4 876.8,1403.1 877.1,1392.6 877.4,1375.6 877.7,1353.4 878,1339.4 878.3,1325.4 878.6,1332.7 878.9,1349.3 879.2,1360.8 879.5,1374.2 879.8,1366.2 880.1,1366.8 880.4,1371.5 880.7,1383.5 881,1392 881.3,1400.4 881.7,1414.2 882,1415.8 882.3,1421.4 882.6,1426.5 882.9,1425.4 883.2,1427.3 883.5,1430.3 883.8,1429.8 884.1,1431.5 884.4,1429.7 884.7,1431.7 885,1430.2 885.3,1429.6 885.6,1436.2 885.9,1433.7 886.2,1434.6 886.5,1430.6 886.8,1431.8 887.1,1430.5 887.4,1426.7 887.7,1428.5 888,1422.8 888.3,1419.4 888.6,1410.5 889,1407.9 889.3,1399.7 889.6,1394.9 889.9,1394.2 890.2,1400.6 890.5,1409.5 890.8,1409.2 891.1,1410.9 891.4,1410.2 891.7,1408.4 892,1417.3 892.3,1414.9 892.6,1424 892.9,1427 893.2,1426.6 893.5,1432.3 893.8,1434.1 894.1,1434.3 894.4,1433.6 894.7,1436.8 895,1438.8 895.3,1437.7 895.6,1441.2 896,1440.2 896.3,1440.6 896.6,1442.4 896.9,1439 897.2,1439.8 897.5,1442.2 897.8,1442.5 898.1,1444.7 898.4,1444.3 898.7,1442.6 899,1442.8 899.3,1441.9 899.6,1441.5 899.9,1441.1 900.2,1443.3 900.5,1440.3 900.8,1440 901.1,1440.5 901.4,1438.7 901.7,1438.6 902,1434.5 902.3,1438.8 902.6,1437.1 902.9,1437.8 903.3,1437.9 903.6,1433.7 903.9,1441.5 904.2,1437.4 904.5,1437.6 904.8,1434.2 905.1,1438.9 905.4,1438.7 905.7,1437.6 906,1439 906.3,1441.2 906.6,1438.5 906.9,1437.6 907.2,1441.9 907.5,1439.9 907.8,1439 908.1,1443.5 908.4,1439.4 908.7,1438.5 909,1439.1 909.3,1437.6 909.6,1438.4 909.9,1438 910.2,1436.3 910.6,1436.8 910.9,1437.7 911.2,1437.8 911.5,1438.1 911.8,1438.5 912.1,1437.6 912.4,1438.1 912.7,1436.5 913,1436.8 913.3,1439.3 913.6,1433.8 913.9,1438.2 914.2,1443.4 914.5,1434 914.8,1440.1 915.1,1433.8 915.4,1437.4 915.7,1439.2 916,1438.1 916.3,1432.5 916.6,1430.7 916.9,1429.9 917.2,1434.3 917.6,1432.9 917.9,1434.3 918.2,1435.3 918.5,1435.7 918.8,1436 919.1,1435.3 919.4,1432.5 919.7,1439 920,1431.8 920.3,1439.9 920.6,1436.9 920.9,1438.1 921.2,1437.8 921.5,1438.3 921.8,1439.2 922.1,1438.8 922.4,1437.5 922.7,1441.2 923,1438.7 923.3,1442.3 923.6,1439.6 923.9,1438.7 924.2,1440.9 924.5,1441.8 924.9,1438.6 925.2,1439.8 925.5,1443.1 925.8,1438.7 926.1,1439.1 926.4,1441.1 926.7,1438.6 927,1436.3 927.3,1437.8 927.6,1441.5 927.9,1442 928.2,1441.7 928.5,1441.2 928.8,1438 929.1,1441.2 929.4,1441.8 929.7,1438 930,1440.7 930.3,1438 930.6,1438.7 930.9,1438.8 931.2,1435.1 931.5,1440.4 931.8,1436 932.2,1437.2 932.5,1436.4 932.8,1438.1 933.1,1438 933.4,1437.2 933.7,1439.8 934,1437.8 934.3,1436.6 934.6,1432.1 934.9,1437 935.2,1437.1 935.5,1436.2 935.8,1436.4 936.1,1439.3 936.4,1440.4 936.7,1442.2 937,1441 937.3,1437.7 937.6,1439.6 937.9,1436.7 938.2,1440.7 938.5,1440.1 938.8,1438.3 939.2,1439.1 939.5,1438.8 939.8,1437.9 940.1,1441.4 940.4,1444.5 940.7,1439.9 941,1440.1 941.3,1438 941.6,1436.6 941.9,1440.9 942.2,1435.4 942.5,1436 942.8,1434 943.1,1434.1 943.4,1431.2 943.7,1430 944,1422.9 944.3,1420.3 944.6,1416.7 944.9,1403.1 945.2,1395.4 945.5,1395.4 945.8,1395.6 946.1,1403.3 946.5,1402.2 946.8,1410.7 947.1,1408.5 947.4,1407.1 947.7,1409.9 948,1413 948.3,1411.6 948.6,1417.4 948.9,1422.7 949.2,1426.8 949.5,1426.7 949.8,1435.4 950.1,1433.3 950.4,1432.3 950.7,1432.7 951,1438.7 951.3,1438.8 951.6,1433.7 951.9,1435.3 952.2,1436.9 952.5,1431.5 952.8,1431.5 953.1,1433.6 953.4,1426.8 953.8,1423.9 954.1,1418.6 954.4,1418.1 954.7,1422.5 955,1422.4 955.3,1424.4 955.6,1427.5 955.9,1432.8 956.2,1429.2 956.5,1427.1 956.8,1429 957.1,1431.3 957.4,1432.7 957.7,1430.7 958,1436.1 958.3,1435.9 958.6,1438.5 958.9,1434.6 959.2,1439.5 959.5,1436.7 959.8,1434.5 960.1,1440.4 960.4,1437 960.8,1438.7 961.1,1437.7 961.4,1440.2 961.7,1440.3 962,1440.5 962.3,1439.9 962.6,1435.7 962.9,1435.8 963.2,1439.5 963.5,1437.5 963.8,1440.3 964.1,1439.9 964.4,1437.1 964.7,1437.9 965,1437.8 965.3,1438.3 965.6,1439.6 965.9,1441.2 966.2,1442.4 966.5,1438 966.8,1438.8 967.1,1442.7 967.4,1441.5 967.7,1440.2 968.1,1435.5 968.4,1438 968.7,1440.2 969,1438.9 969.3,1443.8 969.6,1440.5 969.9,1441 970.2,1438.6 970.5,1438.8 970.8,1439.7 971.1,1439.8 971.4,1440.7 971.7,1441.9 972,1441.8 972.3,1443.2 972.6,1438.9 972.9,1441.7 973.2,1441.8 973.5,1444.2 973.8,1440.7 974.1,1441.6 974.4,1439.4 974.7,1441.6 975,1441.3 975.4,1439.2 975.7,1439.4 976,1440 976.3,1440.9 976.6,1437.5 976.9,1441.1 977.2,1438.7 977.5,1442.7 977.8,1441.8 978.1,1438.3 978.4,1437.8 978.7,1443.5 979,1440.1 979.3,1440 979.6,1438.2 979.9,1438.8 980.2,1440.6 980.5,1440.2 980.8,1437.5 981.1,1441.4 981.4,1439.6 981.7,1437.2 982,1440.7 982.4,1438.4 982.7,1440.1 983,1437.4 983.3,1438.9 983.6,1435 983.9,1438.6 984.2,1434.8 984.5,1437.7 984.8,1432.3 985.1,1436.7 985.4,1437.9 985.7,1436.9 986,1437.7 986.3,1432.5 986.6,1436.5 986.9,1435.2 987.2,1427.6 987.5,1425.7 987.8,1422.8 988.1,1420.6 988.4,1419.5 988.7,1415.1 989,1424.2 989.3,1425.2 989.7,1425.5 990,1430.2 990.3,1427.5 990.6,1430.1 990.9,1429 991.2,1428.6 991.5,1433.6 991.8,1434.6 992.1,1433.4 992.4,1432.2 992.7,1434.7 993,1437.2 993.3,1435.4 993.6,1439 993.9,1435.4 994.2,1434.3 994.5,1433.3 994.8,1428.8 995.1,1427.6 995.4,1422.7 995.7,1414 996,1408.8 996.3,1407.8 996.6,1402.2 997,1404.8 997.3,1407 997.6,1413.8 997.9,1419.9 998.2,1419.8 998.5,1418.2 998.8,1421.5 999.1,1418.3 999.4,1420 999.7,1427 1000,1425 1000.3,1432.7 1000.6,1431.7 1000.9,1434.1 1001.2,1435.5 1001.5,1438 1001.8,1438.6 1002.1,1439.4 1002.4,1439.5 1002.7,1441.9 1003,1442.5 1003.3,1440.6 1003.6,1440.6 1003.9,1438.4 1004.3,1436.9 1004.6,1439.9 1004.9,1438.6 1005.2,1439.9 1005.5,1434.6 1005.8,1442.8 1006.1,1435.1 1006.4,1437.3 1006.7,1438.9 1007,1434.2 1007.3,1435.6 1007.6,1432.8 1007.9,1433.8 1008.2,1432.7 1008.5,1436.6 1008.8,1436.9 1009.1,1435.7 1009.4,1438.6 1009.7,1438.7 1010,1435.7 1010.3,1434.9 1010.6,1434.2 1010.9,1432.9 1011.3,1434.9 1011.6,1430.6 1011.9,1426.5 1012.2,1422.8 1012.5,1420.5 1012.8,1416.6 1013.1,1419.2 1013.4,1421.5 1013.7,1427.4 1014,1428.9 1014.3,1424.4 1014.6,1426.7 1014.9,1427.6 1015.2,1424.9 1015.5,1428.5 1015.8,1429.7 1016.1,1432.4 1016.4,1432.9 1016.7,1434.9 1017,1436.2 1017.3,1432.9 1017.6,1434.4 1017.9,1434.5 1018.2,1439.8 1018.6,1437.2 1018.9,1437.3 1019.2,1436.9 1019.5,1435.4 1019.8,1434.8 1020.1,1437.6 1020.4,1435 1020.7,1438.5 1021,1435.7 1021.3,1435.3 1021.6,1434.7 1021.9,1434.9 1022.2,1435.2 1022.5,1438.1 1022.8,1439.7 1023.1,1433.2 1023.4,1436 1023.7,1436.9 1024,1433.8 1024.3,1434.2 1024.6,1434.3 1024.9,1430.2 1025.2,1435.6 1025.5,1433.5 1025.9,1432.5 1026.2,1431.5 1026.5,1430 1026.8,1431.8 1027.1,1424.1 1027.4,1420.9 1027.7,1411.6 1028,1404.6 1028.3,1392.1 1028.6,1381.5 1028.9,1374.5 1029.2,1378.3 1029.5,1390.2 1029.8,1399.5 1030.1,1404.7 1030.4,1404.7 1030.7,1406.2 1031,1397.7 1031.3,1403.6 1031.6,1403.5 1031.9,1409.8 1032.2,1418 1032.5,1420 1032.9,1426.8 1033.2,1426.9 1033.5,1431 1033.8,1430.7 1034.1,1433.3 1034.4,1436.5 1034.7,1433.1 1035,1433.7 1035.3,1434.7 1035.6,1436.2 1035.9,1441 1036.2,1434.6 1036.5,1431.7 1036.8,1434.1 1037.1,1432.1 1037.4,1433.7 1037.7,1434.5 1038,1432.1 1038.3,1432.2 1038.6,1429.3 1038.9,1432.7 1039.2,1430.2 1039.5,1433 1039.8,1432 1040.2,1427.2 1040.5,1426.9 1040.8,1426.1 1041.1,1425.3 1041.4,1417.6 1041.7,1416.9 1042,1415.3 1042.3,1403.4 1042.6,1393.2 1042.9,1379 1043.2,1362.8 1043.5,1361.2 1043.8,1364.4 1044.1,1375.8 1044.4,1388.4 1044.7,1396.2 1045,1393.9 1045.3,1398.8 1045.6,1393.6 1045.9,1392.8 1046.2,1392.8 1046.5,1399.1 1046.8,1411.2 1047.1,1416.3 1047.5,1421.1 1047.8,1424.9 1048.1,1428.4 1048.4,1430.1 1048.7,1426.9 1049,1430.9 1049.3,1432.8 1049.6,1435.3 1049.9,1436.8 1050.2,1432.7 1050.5,1438.3 1050.8,1434.9 1051.1,1435.8 1051.4,1434 1051.7,1434 1052,1438 1052.3,1435 1052.6,1435.4 1052.9,1437.9 1053.2,1439.1 1053.5,1433.1 1053.8,1435.8 1054.1,1436.2 1054.5,1439.8 1054.8,1441.1 1055.1,1436.4 1055.4,1437.3 1055.7,1438.2 1056,1438.7 1056.3,1435.9 1056.6,1438 1056.9,1435 1057.2,1431.2 1057.5,1433.6 1057.8,1436.5 1058.1,1437.5 1058.4,1431.8 1058.7,1432.6 1059,1435.9 1059.3,1429.7 1059.6,1437.1 1059.9,1438.2 1060.2,1430.9 1060.5,1438 1060.8,1436.4 1061.1,1439.6 1061.4,1437.7 1061.8,1436.9 1062.1,1437.8 1062.4,1439.5 1062.7,1438.3 1063,1438.2 1063.3,1435.6 1063.6,1439.3 1063.9,1438.6 1064.2,1442.1 1064.5,1438.8 1064.8,1438.7 1065.1,1437.8 1065.4,1440.3 1065.7,1438.7 1066,1437.7 1066.3,1442 1066.6,1442.3 1066.9,1438.1 1067.2,1437 1067.5,1441 1067.8,1437.3 1068.1,1444.1 1068.4,1438.6 1068.7,1440.8 1069.1,1436.7 1069.4,1439.1 1069.7,1441.4 1070,1440.3 1070.3,1438.7 1070.6,1444.5 1070.9,1441.5 1071.2,1439.9 1071.5,1439.3 1071.8,1440.1 1072.1,1443.2 1072.4,1439.3 1072.7,1440.9 1073,1439.3 1073.3,1443.1 1073.6,1440.4 1073.9,1442.3 1074.2,1441.6 1074.5,1439.4 1074.8,1441.7 1075.1,1442.1 1075.4,1438 1075.7,1441.4 1076.1,1446.6 1076.4,1439.2 1076.7,1440.7 1077,1436.7 1077.3,1439.7 1077.6,1437.2 1077.9,1439.1 1078.2,1436.7 1078.5,1433.4 1078.8,1436.5 1079.1,1432.3 1079.4,1428.7 1079.7,1428.4 1080,1423.6 1080.3,1423.4 1080.6,1420.1 1080.9,1418.2 1081.2,1420.7 1081.5,1418.2 1081.8,1424.6 1082.1,1420 1082.4,1428.4 1082.7,1425.9 1083,1425.1 1083.4,1424.1 1083.7,1427.2 1084,1426.9 1084.3,1428.5 1084.6,1432.8 1084.9,1431.6 1085.2,1433.4 1085.5,1435.9 1085.8,1438.1 1086.1,1436.6 1086.4,1437.8 1086.7,1438.1 1087,1439.9 1087.3,1441.7 1087.6,1437.4 1087.9,1439.2 1088.2,1439.5 1088.5,1440.8 1088.8,1442.6 1089.1,1439.7 1089.4,1440 1089.7,1441.7 1090,1437.1 1090.3,1437.9 1090.7,1438.4 1091,1439.2 1091.3,1439.7 1091.6,1438.3 1091.9,1442.6 1092.2,1438 1092.5,1439.1 1092.8,1441.6 1093.1,1441.2 1093.4,1439.8 1093.7,1440.7 1094,1441.7 1094.3,1440.3 1094.6,1441.7 1094.9,1439 1095.2,1441 1095.5,1438 1095.8,1439.6 1096.1,1439.2 1096.4,1443.7 1096.7,1440.4 1097,1441.6 1097.3,1439.1 1097.7,1440.1 1098,1439.6 1098.3,1438.1 1098.6,1440.8 1098.9,1435.5 1099.2,1439.2 1099.5,1442.5 1099.8,1435.1 1100.1,1436 1100.4,1432.1 1100.7,1434.2 1101,1429.7 1101.3,1433.1 1101.6,1429.3 1101.9,1424.6 1102.2,1423.2 1102.5,1419.8 1102.8,1419.5 1103.1,1419.4 1103.4,1415.8 1103.7,1415.2 1104,1418.2 1104.3,1422.9 1104.6,1419.8 1105,1427.5 1105.3,1427.8 1105.6,1422 1105.9,1429.2 1106.2,1423.6 1106.5,1427.5 1106.8,1431.9 1107.1,1428 1107.4,1429.3 1107.7,1432.2 1108,1433.3 1108.3,1436 1108.6,1435.8 1108.9,1436.3 1109.2,1436.7 1109.5,1437.6 1109.8,1436.6 1110.1,1439.3 1110.4,1439 1110.7,1437.4 1111,1443.2 1111.3,1437.7 1111.6,1441.9 1111.9,1439.4 1112.3,1441.9 1112.6,1442.5 1112.9,1443.4 1113.2,1444.6 1113.5,1440.5 1113.8,1447.8 1114.1,1443.3 1114.4,1441.2 1114.7,1440.3 1115,1447.5 1115.3,1446.3 1115.6,1443.3 1115.9,1444.8 1116.2,1445.9 1116.5,1443.6 1116.8,1442.5 1117.1,1443.1 1117.4,1444.7 1117.7,1442.9 1118,1440.4 1118.3,1443.9 1118.6,1439 1118.9,1440.6 1119.3,1444.1 1119.6,1441.9 1119.9,1441.5 1120.2,1441 1120.5,1442.4 1120.8,1439.9 1121.1,1436 1121.4,1439.8 1121.7,1433.3 1122,1435 1122.3,1441.8 1122.6,1440.6 1122.9,1437.6 1123.2,1438.3 1123.5,1438.5 1123.8,1440.2 1124.1,1436.7 1124.4,1436.3 1124.7,1436.7 1125,1438 1125.3,1438.1 1125.6,1436.7 1125.9,1438.7 1126.2,1435 1126.6,1436.4 1126.9,1434.7 1127.2,1433.3 1127.5,1436.6 1127.8,1432.1 1128.1,1428.9 1128.4,1428.8 1128.7,1424.3 1129,1425.6 1129.3,1425.2 1129.6,1426 1129.9,1423.2 1130.2,1426.8 1130.5,1432.3 1130.8,1429 1131.1,1432.4 1131.4,1432.8 1131.7,1426.5 1132,1431.6 1132.3,1431.1 1132.6,1432.3 1132.9,1435.3 1133.2,1434.1 1133.5,1434.5 1133.9,1436.5 1134.2,1435.4 1134.5,1437.7 1134.8,1433.4 1135.1,1441.1 1135.4,1437.1 1135.7,1439.6 1136,1439.6 1136.3,1439.5 1136.6,1439.8 1136.9,1439.9 1137.2,1436.8 1137.5,1439 1137.8,1442.5 1138.1,1438.2 1138.4,1438.1 1138.7,1444.2 1139,1442.3 1139.3,1442.9 1139.6,1439.7 1139.9,1440.1 1140.2,1440.8 1140.5,1440.2 1140.8,1438.7 1141.2,1435.7 1141.5,1436.8 1141.8,1434.9 1142.1,1440.5 1142.4,1436.2 1142.7,1436 1143,1436.3 1143.3,1434.9 1143.6,1434.9 1143.9,1431.4 1144.2,1428.1 1144.5,1433.1 1144.8,1426.5 1145.1,1425.7 1145.4,1424.6 1145.7,1425.4 1146,1427.6 1146.3,1430.4 1146.6,1427.9 1146.9,1431.6 1147.2,1430.3 1147.5,1434.4 1147.8,1429.6 1148.2,1432.5 1148.5,1434.2 1148.8,1430.9 1149.1,1434.9 1149.4,1436.1 1149.7,1435.4 1150,1437.6 1150.3,1440.9 1150.6,1440.2 1150.9,1439.7 1151.2,1440.7 1151.5,1442.6 1151.8,1444.6 1152.1,1444.1 1152.4,1444.3 1152.7,1446.1 1153,1440.3 1153.3,1440.6 1153.6,1439 1153.9,1445 1154.2,1438.8 1154.5,1442.9 1154.8,1444.1 1155.1,1439.4 1155.5,1440.2 1155.8,1440.2 1156.1,1441.1 1156.4,1435.6 1156.7,1437.7 1157,1436.7 1157.3,1433.6 1157.6,1431.2 1157.9,1430.8 1158.2,1425.9 1158.5,1423.2 1158.8,1421.4 1159.1,1423.6 1159.4,1423 1159.7,1426.6 1160,1427.1 1160.3,1430.3 1160.6,1427.2 1160.9,1429.2 1161.2,1429.9 1161.5,1430.2 1161.8,1432.2 1162.1,1432 1162.4,1434.6 1162.8,1438.4 1163.1,1437.7 1163.4,1435.3 1163.7,1435.6 1164,1440.4 1164.3,1438.9 1164.6,1440.5 1164.9,1439.8 1165.2,1442.8 1165.5,1442.5 1165.8,1437.9 1166.1,1440.4 1166.4,1439 1166.7,1436.7 1167,1440 1167.3,1437.9 1167.6,1438.3 1167.9,1441.3 1168.2,1437.9 1168.5,1436 1168.8,1431.1 1169.1,1427.1 1169.4,1429.2 1169.8,1423.2 1170.1,1421.4 1170.4,1419.6 1170.7,1421.3 1171,1428.1 1171.3,1425 1171.6,1427.2 1171.9,1429.7 1172.2,1430.6 1172.5,1427.7 1172.8,1426.1 1173.1,1428.2 1173.4,1429 1173.7,1428.8 1174,1429.9 1174.3,1431.7 1174.6,1434.2 1174.9,1436 1175.2,1434 1175.5,1436.8 1175.8,1439.1 1176.1,1438.5 1176.4,1436.4 1176.7,1438.5 1177.1,1439.2 1177.4,1440.7 1177.7,1436.2 1178,1440.6 1178.3,1438.4 1178.6,1439.7 1178.9,1440.6 1179.2,1437.8 1179.5,1438 1179.8,1439.4 1180.1,1441.1 1180.4,1438.9 1180.7,1437.5 1181,1439 1181.3,1441.2 1181.6,1442.9 1181.9,1439.9 1182.2,1440.5 1182.5,1440.9 1182.8,1441.1 1183.1,1439.6 1183.4,1440.6 1183.7,1441.8 1184,1441.6 1184.4,1441.3 1184.7,1439.2 1185,1439.9 1185.3,1439.3 1185.6,1442.4 1185.9,1442.8 1186.2,1440.4 1186.5,1442.5 1186.8,1438.5 1187.1,1438.1 1187.4,1435.6 1187.7,1437.9 1188,1435.7 1188.3,1435.6 1188.6,1434.9 1188.9,1431.8 1189.2,1428.3 1189.5,1429 1189.8,1428.1 1190.1,1428.5 1190.4,1430.7 1190.7,1430 1191,1430.9 1191.4,1435.5 1191.7,1434.6 1192,1432.4 1192.3,1430.5 1192.6,1431.3 1192.9,1432.9 1193.2,1434.1 1193.5,1437.8 1193.8,1433.4 1194.1,1434.7 1194.4,1434.2 1194.7,1435.2 1195,1434.3 1195.3,1432.7 1195.6,1436.2 1195.9,1433.7 1196.2,1434.8 1196.5,1429.7 1196.8,1429.2 1197.1,1427.4 1197.4,1419 1197.7,1415.9 1198,1415.2 1198.3,1408.6 1198.7,1400.2 1199,1400.4 1199.3,1400.8 1199.6,1405.3 1199.9,1413.6 1200.2,1412.6 1200.5,1420.3 1200.8,1416.7 1201.1,1415.7 1201.4,1419.5 1201.7,1417 1202,1417.1 1202.3,1418.7 1202.6,1418.4 1202.9,1420.7 1203.2,1416.4 1203.5,1419.2 1203.8,1421.8 1204.1,1420.5 1204.4,1419.7 1204.7,1414.7 1205,1414.9 1205.3,1414.4 1205.6,1410.6 1206,1412.6 1206.3,1415.1 1206.6,1419.5 1206.9,1421.2 1207.2,1422.1 1207.5,1424.9 1207.8,1425.3 1208.1,1422 1208.4,1425.2 1208.7,1424.9 1209,1426.2 1209.3,1426.6 1209.6,1431 1209.9,1433.5 1210.2,1432.8 1210.5,1436.3 1210.8,1438.4 1211.1,1439.2 1211.4,1436.7 1211.7,1437 1212,1439.5 1212.3,1437.8 1212.6,1444.8 1213,1438.7 1213.3,1438.8 1213.6,1441.5 1213.9,1439.4 1214.2,1435.9 1214.5,1439.9 1214.8,1438.2 1215.1,1438.9 1215.4,1436.8 1215.7,1438 1216,1439.3 1216.3,1439.3 1216.6,1437.3 1216.9,1438 1217.2,1437.6 1217.5,1439.4 1217.8,1438.7 1218.1,1436.6 1218.4,1440 1218.7,1437.5 1219,1439.4 1219.3,1437 1219.6,1439.3 1219.9,1438.6 1220.3,1438.9 1220.6,1439.8 1220.9,1439.8 1221.2,1439.3 1221.5,1439.4 1221.8,1436.8 1222.1,1439 1222.4,1435.2 1222.7,1435.2 1223,1438.8 1223.3,1439 1223.6,1442.2 1223.9,1440.7 1224.2,1441.6 1224.5,1439 1224.8,1440.3 1225.1,1441.7 1225.4,1440.5 1225.7,1440.1 1226,1439.6 1226.3,1437.6 1226.6,1437.5 1226.9,1436.3 1227.2,1439.4 1227.6,1437.7 1227.9,1436.4 1228.2,1437.7 1228.5,1435.1 1228.8,1437.1 1229.1,1437.4 1229.4,1432.8 1229.7,1428.2 1230,1423.6 1230.3,1426.9 1230.6,1419.7 1230.9,1412.9 1231.2,1416 1231.5,1411.6 1231.8,1417.2 1232.1,1421.2 1232.4,1424 1232.7,1424.7 1233,1432.9 1233.3,1427.7 1233.6,1428.9 1233.9,1427.5 1234.2,1423.6 1234.6,1426.1 1234.9,1429.2 1235.2,1433 1235.5,1432.9 1235.8,1436.4 1236.1,1436.7 1236.4,1439.8 1236.7,1434.8 1237,1441.4 1237.3,1439.5 1237.6,1439.9 1237.9,1435.8 1238.2,1439.1 1238.5,1442.2 1238.8,1445.2 1239.1,1439.3 1239.4,1439.2 1239.7,1441.1 1240,1440.5 1240.3,1438.7 1240.6,1439.4 1240.9,1438.9 1241.2,1440.7 1241.5,1441.1 1241.9,1442.9 1242.2,1441.4 1242.5,1441.1 1242.8,1440.3 1243.1,1441.8 1243.4,1438.4 1243.7,1444.4 1244,1441 1244.3,1443.2 1244.6,1439.2 1244.9,1442.6 1245.2,1441.4 1245.5,1440.4 1245.8,1439.6 1246.1,1439.2 1246.4,1444.2 1246.7,1443.2 1247,1441.2 1247.3,1441.4 1247.6,1439.8 1247.9,1437.8 1248.2,1437.9 1248.5,1440.1 1248.8,1441 1249.2,1439.1 1249.5,1442.8 1249.8,1442.2 1250.1,1441.6 1250.4,1437.9 1250.7,1440.8 1251,1441.1 1251.3,1438.8 1251.6,1437 1251.9,1444.6 1252.2,1442 1252.5,1439.9 1252.8,1443.2 1253.1,1441.6 1253.4,1439.5 1253.7,1437.9 1254,1437.5 1254.3,1437.1 1254.6,1432.2 1254.9,1429.4 1255.2,1429.1 1255.5,1421.4 1255.8,1427.5 1256.2,1427.8 1256.5,1430.2 1256.8,1431.4 1257.1,1433.6 1257.4,1433.9 1257.7,1434.2 1258,1433.8 1258.3,1434.8 1258.6,1432.7 1258.9,1435.8 1259.2,1431.2 1259.5,1436 1259.8,1437.7 1260.1,1435.5 1260.4,1438.1 1260.7,1442.1 1261,1439.8 1261.3,1438.7 1261.6,1435 1261.9,1441.4 1262.2,1441.1 1262.5,1442.2 1262.8,1445 1263.1,1441.3 1263.5,1441.7 1263.8,1440.3 1264.1,1441.6 1264.4,1441.8 1264.7,1443.4 1265,1443.1 1265.3,1440.8 1265.6,1441.5 1265.9,1445.1 1266.2,1440.9 1266.5,1444.2 1266.8,1445.9 1267.1,1444.2 1267.4,1443.5 1267.7,1445.7 1268,1443.9 1268.3,1443.3 1268.6,1443 1268.9,1445.6 1269.2,1444.7 1269.5,1446.3 1269.8,1442.6 1270.1,1442.5 1270.4,1442.1 1270.8,1443.1 1271.1,1441 1271.4,1443.6 1271.7,1442 1272,1439 1272.3,1434.7 1272.6,1436.3 1272.9,1441.8 1273.2,1438.4 1273.5,1438.3 1273.8,1436.9 1274.1,1438.4 1274.4,1434.1 1274.7,1434.3 1275,1435.3 1275.3,1438.8 1275.6,1440.3 1275.9,1440 1276.2,1439 1276.5,1436.9 1276.8,1441 1277.1,1439.1 1277.4,1439.8 1277.7,1440 1278.1,1439.5 1278.4,1439.4 1278.7,1439.9 1279,1438.8 1279.3,1441.9 1279.6,1441.3 1279.9,1443.7 1280.2,1438.6 1280.5,1444.3 1280.8,1442 1281.1,1441.8 1281.4,1440.6 1281.7,1440.5 1282,1439 1282.3,1443.3 1282.6,1441 1282.9,1442.4 1283.2,1442.2 1283.5,1439.2 1283.8,1439.1 1284.1,1438.2 1284.4,1439.9 1284.7,1437 1285.1,1435.6 1285.4,1435 1285.7,1431.5 1286,1433.8 1286.3,1426.3 1286.6,1430 1286.9,1430.4 1287.2,1426.2 1287.5,1431.5 1287.8,1431.6 1288.1,1433.9 1288.4,1430.5 1288.7,1433.8 1289,1431.4 1289.3,1432.6 1289.6,1436 1289.9,1433.1 1290.2,1429.5 1290.5,1432.3 1290.8,1434.2 1291.1,1439.9 1291.4,1438 1291.7,1437.7 1292,1443.9 1292.4,1443.2 1292.7,1444.1 1293,1442.5 1293.3,1447.1 1293.6,1444.5 1293.9,1441.1 1294.2,1442.8 1294.5,1443.2 1294.8,1444.3 1295.1,1445.8 1295.4,1442.7 1295.7,1442.6 1296,1447.5 1296.3,1443.2 1296.6,1441.8 1296.9,1442.5 1297.2,1439.9 1297.5,1442.9 1297.8,1443.5 1298.1,1440.5 1298.4,1443.3 1298.7,1440.8 1299,1441.8 1299.3,1439.8 1299.7,1439.7 1300,1438.4 1300.3,1441.6 1300.6,1440.8 1300.9,1440.9 1301.2,1439.4 1301.5,1439.4 1301.8,1440.5 1302.1,1442.6 1302.4,1442.4 1302.7,1440.7 1303,1442.7 1303.3,1445.5 1303.6,1442.7 1303.9,1446.4 1304.2,1443.6 1304.5,1445.5 1304.8,1442.2 1305.1,1445.4 1305.4,1441.1 1305.7,1443.7 1306,1442.5 1306.3,1439.3 1306.7,1440.3 1307,1444.7 1307.3,1443.4 1307.6,1444.6 1307.9,1442.4 1308.2,1436.5 1308.5,1442.1 1308.8,1440.5 1309.1,1440.5 1309.4,1440.6 1309.7,1440 1310,1439.7 1310.3,1443.8 1310.6,1442.4 1310.9,1440.6 1311.2,1441.1 1311.5,1443.8 1311.8,1442.8 1312.1,1442.5 1312.4,1440 1312.7,1441.4 1313,1440.2 1313.3,1438.8 1313.6,1443.9 1314,1441.8 1314.3,1441.7 1314.6,1440.8 1314.9,1444.1 1315.2,1446.7 1315.5,1444.2 1315.8,1445 1316.1,1441.3 1316.4,1444.1 1316.7,1444.5 1317,1447.1 1317.3,1444.6 1317.6,1443.1 1317.9,1444.8 1318.2,1444.2 1318.5,1447.7 1318.8,1446.2 1319.1,1445.5 1319.4,1445.1 1319.7,1446.1 1320,1443.4 1320.3,1442.4 1320.6,1440.5 1320.9,1445.9 1321.3,1444.5 1321.6,1444.6 1321.9,1443.4 1322.2,1446.3 1322.5,1441.4 1322.8,1445.3 1323.1,1441.6 1323.4,1442.3 1323.7,1440.8 1324,1443.2 1324.3,1442.5 1324.6,1443.8 1324.9,1441.8 1325.2,1440.2 1325.5,1443.7 1325.8,1444.8 1326.1,1443.7 1326.4,1442.1 1326.7,1442.7 1327,1438.7 1327.3,1441 1327.6,1443.6 1327.9,1442.1 1328.3,1439.5 1328.6,1442.5 1328.9,1440.6 1329.2,1442.1 1329.5,1438.2 1329.8,1439.8 1330.1,1441.4 1330.4,1441.4 1330.7,1442 1331,1441.1 1331.3,1440.9 1331.6,1442.4 1331.9,1443.3 1332.2,1439.1 1332.5,1441.4 1332.8,1441.7 1333.1,1442.3 1333.4,1443.8 1333.7,1439.1 1334,1442.2 1334.3,1437.4 1334.6,1438.5 1334.9,1438.1 1335.2,1437.9 1335.6,1436.6 1335.9,1436.5 1336.2,1436.8 1336.5,1437 1336.8,1434.1 1337.1,1435.1 1337.4,1437 1337.7,1438.9 1338,1439.7 1338.3,1443.1 1338.6,1437.9 1338.9,1436.1 1339.2,1438 1339.5,1439.2 1339.8,1438.5 1340.1,1436.6 1340.4,1438.8 1340.7,1439.2 1341,1436.9 1341.3,1437.5 1341.6,1442.1 1341.9,1435.9 1342.2,1440.4 1342.5,1439.7 1342.9,1442.9 1343.2,1441.6 1343.5,1439.1 1343.8,1443.3 1344.1,1440.4 1344.4,1445.5 1344.7,1445.3 1345,1442.6 1345.3,1444.6 1345.6,1444 1345.9,1442.3 1346.2,1446.2 1346.5,1445.2 1346.8,1446 1347.1,1446.4 1347.4,1447 1347.7,1446.1 1348,1443.9 1348.3,1444 1348.6,1444.3 1348.9,1443.1 1349.2,1442.6 1349.5,1446.3 1349.9,1443.7 1350.2,1446.2 1350.5,1441.4 1350.8,1442.9 1351.1,1442.4 1351.4,1442.7 1351.7,1443.2 1352,1443.9 1352.3,1443.6 1352.6,1448.1 1352.9,1446.3 1353.2,1443.9 1353.5,1444.3 1353.8,1446.7 1354.1,1446.2 1354.4,1443.9 1354.7,1446.4 1355,1441.5 1355.3,1442.7 1355.6,1446.2 1355.9,1437.3 1356.2,1441 1356.5,1442.3 1356.8,1439.1 1357.2,1436.8 1357.5,1435.5 1357.8,1432 1358.1,1432.3 1358.4,1434.1 1358.7,1432.4 1359,1433.5 1359.3,1433.8 1359.6,1435.3 1359.9,1432.3 1360.2,1435.5 1360.5,1436 1360.8,1436.4 1361.1,1435.4 1361.4,1433 1361.7,1438.3 1362,1438.6 1362.3,1441.7 1362.6,1438.8 1362.9,1441 1363.2,1439.7 1363.5,1438.5 1363.8,1440.8 1364.1,1438.2 1364.5,1441.4 1364.8,1441.1 1365.1,1439.6 1365.4,1444.1 1365.7,1444 1366,1442.9 1366.3,1443.5 1366.6,1445.1 1366.9,1441.8 1367.2,1439.5 1367.5,1440.3 1367.8,1443.3 1368.1,1442.4 1368.4,1439.2 1368.7,1444.4 1369,1442.4 1369.3,1444.9 1369.6,1444.1 1369.9,1441.3 1370.2,1442.3 1370.5,1440.8 1370.8,1440.7 1371.1,1441.7 1371.5,1443.3 1371.8,1444.9 1372.1,1440.8 1372.4,1443.7 1372.7,1442.5 1373,1441.9 1373.3,1444.3 1373.6,1441.4 1373.9,1444.4 1374.2,1440.9 1374.5,1439.4 1374.8,1442.1 1375.1,1437.4 1375.4,1437.3 1375.7,1438.6 1376,1438.4 1376.3,1437.4 1376.6,1433.7 1376.9,1434.7 1377.2,1438 1377.5,1438.1 1377.8,1435.2 1378.1,1437.7 1378.4,1437.7 1378.8,1439.4 1379.1,1436.3 1379.4,1440.6 1379.7,1437.6 1380,1441.1 1380.3,1440.5 1380.6,1437.2 1380.9,1438.9 1381.2,1440.5 1381.5,1442.4 1381.8,1438.4 1382.1,1440.4 1382.4,1442.8 1382.7,1442.8 1383,1440.2 1383.3,1440.6 1383.6,1443.2 1383.9,1440.6 1384.2,1443 1384.5,1444.2 1384.8,1442.5 1385.1,1437.5 1385.4,1444.5 1385.7,1444.4 1386.1,1444.8 1386.4,1443.7 1386.7,1439 1387,1444.7 1387.3,1442.8 1387.6,1443.9 1387.9,1442 1388.2,1442 1388.5,1442.1 1388.8,1445.6 1389.1,1443.4 1389.4,1442.7 1389.7,1440.9 1390,1444.3 1390.3,1443.6 1390.6,1444 1390.9,1445.7 1391.2,1445.3 1391.5,1444 1391.8,1444.5 1392.1,1444.3 1392.4,1445.4 1392.7,1445.4 1393.1,1444.4 1393.4,1442.6 1393.7,1445.7 1394,1445.9 1394.3,1442.3 1394.6,1445 1394.9,1443.5 1395.2,1440 1395.5,1443.8 1395.8,1445.5 1396.1,1442 1396.4,1441.6 1396.7,1444.3 1397,1439.8 1397.3,1439.4 1397.6,1439.9 1397.9,1440.9 1398.2,1440.2 1398.5,1437.1 1398.8,1436.8 1399.1,1436.9 1399.4,1435.5 1399.7,1434.4 1400,1434.1 1400.4,1438.1 1400.7,1437 1401,1443.6 1401.3,1439.9 1401.6,1437.7 1401.9,1439.5 1402.2,1440.2 1402.5,1440.3 1402.8,1440.2 1403.1,1439.8 1403.4,1438.3 1403.7,1439.5 1404,1442.2 1404.3,1437 1404.6,1437.1 1404.9,1439.2 1405.2,1440.2 1405.5,1439.4 1405.8,1440.3 1406.1,1438 1406.4,1437.8 1406.7,1439.6 1407,1439.9 1407.3,1441.9 1407.7,1441.8 1408,1435.7 1408.3,1440.7 1408.6,1438.1 1408.9,1435.5 1409.2,1440.2 1409.5,1439.2 1409.8,1438.9 1410.1,1437.2 1410.4,1437.7 1410.7,1439.3 1411,1436.9 1411.3,1439.5 1411.6,1439.9 1411.9,1439.4 1412.2,1440.3 1412.5,1439.7 1412.8,1437.8 1413.1,1438.1 1413.4,1440.3 1413.7,1441.9 1414,1440.4 1414.3,1439.1 1414.6,1440.3 1415,1436.5 1415.3,1437.8 1415.6,1438.6 1415.9,1438.8 1416.2,1437.8 1416.5,1437.4 1416.8,1435 1417.1,1435.4 1417.4,1436.1 1417.7,1431.2 1418,1431.4 1418.3,1432 1418.6,1434.9 1418.9,1433 1419.2,1434.8 1419.5,1435 1419.8,1432.3 1420.1,1433.9 1420.4,1432.6 1420.7,1437.8 1421,1437.5 1421.3,1437.7 1421.6,1438 1422,1437.8 1422.3,1437.4 1422.6,1437.6 1422.9,1439.6 1423.2,1436.1 1423.5,1436.2 1423.8,1438.8 1424.1,1441.6 1424.4,1440.4 1424.7,1439.9 1425,1442.1 1425.3,1440.9 1425.6,1437.2 1425.9,1438.9 1426.2,1436.8 1426.5,1440.2 1426.8,1439.7 1427.1,1441.2 1427.4,1444.3 1427.7,1439.3 1428,1440.5 1428.3,1439.9 1428.6,1435.6 1428.9,1439.6 1429.3,1439.9 1429.6,1442 1429.9,1440.2 1430.2,1439.6 1430.5,1443.3 1430.8,1442.2 1431.1,1440.8 1431.4,1441.2 1431.7,1442 1432,1444 1432.3,1445 1432.6,1439.8 1432.9,1444.1 1433.2,1441.8 1433.5,1442.1 1433.8,1442.9 1434.1,1439.1 1434.4,1442.2 1434.7,1438 1435,1439.4 1435.3,1438.6 1435.6,1443.1 1435.9,1443.1 1436.2,1441.5 1436.6,1441.2 1436.9,1439.5 1437.2,1443.9 1437.5,1443.5 1437.8,1442.8 1438.1,1441.2 1438.4,1441 1438.7,1441.7 1439,1444.4 1439.3,1440.3 1439.6,1442.3 1439.9,1445.1 1440.2,1443.6 1440.5,1445 1440.8,1442.3 1441.1,1442 1441.4,1443.3 1441.7,1441.4 1442,1440.1 1442.3,1437.7 1442.6,1434.9 1442.9,1439.6 1443.2,1435 1443.6,1433.5 1443.9,1436.2 1444.2,1432.7 1444.5,1431.9 1444.8,1433.8 1445.1,1435.1 1445.4,1436 1445.7,1436.6 1446,1437.5 1446.3,1435.4 1446.6,1436.1 1446.9,1434.9 1447.2,1433.6 1447.5,1435.3 1447.8,1435.1 1448.1,1437.9 1448.4,1435.8 1448.7,1433.8 1449,1436.8 1449.3,1435.8 1449.6,1439.7 1449.9,1434.1 1450.2,1436.6 1450.5,1437 1450.9,1438.9 1451.2,1438.9 1451.5,1436.6 1451.8,1436.4 1452.1,1440.4 1452.4,1443 1452.7,1443.2 1453,1439.9 1453.3,1441.6 1453.6,1439.3 1453.9,1438.2 1454.2,1443 1454.5,1441.9 1454.8,1440 1455.1,1439.8 1455.4,1442.1 1455.7,1441 1456,1439.8 1456.3,1441 1456.6,1440.6 1456.9,1440.1 1457.2,1439.7 1457.5,1442.9 1457.8,1440.5 1458.2,1439.5 1458.5,1445.1 1458.8,1444.3 1459.1,1443.1 1459.4,1442.2 1459.7,1442.8 1460,1439.9 1460.3,1442.6 1460.6,1443.2 1460.9,1442.3 1461.2,1443.6 1461.5,1441.4 1461.8,1443.1 1462.1,1439.8 1462.4,1442.5 1462.7,1441.2 1463,1439.7 1463.3,1441.1 1463.6,1441.4 1463.9,1439.8 1464.2,1442.1 1464.5,1438.4 1464.8,1440.9 1465.2,1440 1465.5,1437.2 1465.8,1440.8 1466.1,1435.4 1466.4,1438.9 1466.7,1437.9 1467,1439 1467.3,1434.6 1467.6,1435.1 1467.9,1435.6 1468.2,1437 1468.5,1437 1468.8,1436.9 1469.1,1436.4 1469.4,1435.7 1469.7,1434.8 1470,1436.9 1470.3,1439 1470.6,1440.3 1470.9,1437.9 1471.2,1441.1 1471.5,1436.9 1471.8,1440.9 1472.1,1437.6 1472.5,1440 1472.8,1437.8 1473.1,1437.6 1473.4,1438.2 1473.7,1441.6 1474,1437.4 1474.3,1439.4 1474.6,1438.2 1474.9,1438 1475.2,1437.6 1475.5,1437.6 1475.8,1433.6 1476.1,1435.3 1476.4,1435.3 1476.7,1433 1477,1434.5 1477.3,1432 1477.6,1435.8 1477.9,1433.9 1478.2,1435.7 1478.5,1438.7 1478.8,1440.1 1479.1,1437.8 1479.4,1438.2 1479.8,1441.5 1480.1,1434.5 1480.4,1442.4 1480.7,1442.3 1481,1437.7 1481.3,1441.8 1481.6,1440.1 1481.9,1440.3 1482.2,1435.3 1482.5,1439 1482.8,1439.9 1483.1,1439.9 1483.4,1440.2 1483.7,1440.7 1484,1436.2 1484.3,1441.2 1484.6,1440.4 1484.9,1441.6 1485.2,1441 1485.5,1441.9 1485.8,1442.5 1486.1,1445.3 1486.4,1440.7 1486.8,1445.3 1487.1,1441.9 1487.4,1440.8 1487.7,1439.9 1488,1444.2 1488.3,1440 1488.6,1444.5 1488.9,1443.5 1489.2,1441.9 1489.5,1441.8 1489.8,1443.8 1490.1,1443.1 1490.4,1444.1 1490.7,1442.6 1491,1441.5 1491.3,1443.1 1491.6,1439.8 1491.9,1443.3 1492.2,1441.8 1492.5,1439.6 1492.8,1439.7 1493.1,1441 1493.4,1438.4 1493.7,1444.3 1494.1,1443.8 1494.4,1440.3 1494.7,1442.4 1495,1446 1495.3,1444 1495.6,1441.7 1495.9,1439.9 1496.2,1441.1 1496.5,1446.4 1496.8,1444.9 1497.1,1442.1 1497.4,1445.8 1497.7,1443.8 1498,1443.3 1498.3,1443.5 1498.6,1443.5 1498.9,1447.1 1499.2,1442.3 1499.5,1443 1499.8,1446 1500.1,1446.1 1500.4,1441.4 1500.7,1446.6 1501,1444.7 1501.4,1439.8 1501.7,1445.6 1502,1439.5 1502.3,1443.2 1502.6,1439.7 1502.9,1438.4 1503.2,1443 1503.5,1442.1 1503.8,1441 1504.1,1441.5 1504.4,1441 1504.7,1440.8 1505,1439.5 1505.3,1442.8 1505.6,1442 1505.9,1441.9 1506.2,1441.7 1506.5,1442.6 1506.8,1440.7 1507.1,1443.3 1507.4,1442.4 1507.7,1446.8 1508,1443 1508.4,1444.1 1508.7,1445.1 1509,1446.6 1509.3,1446 1509.6,1445 1509.9,1448.7 1510.2,1444.5 1510.5,1444.7 1510.8,1448.7 1511.1,1441.5 1511.4,1444.4 1511.7,1442.9 1512,1439.1 1512.3,1439.8 1512.6,1441.9 1512.9,1437.1 1513.2,1438.9 1513.5,1440.4 1513.8,1437.7 1514.1,1438.1 1514.4,1435.9 1514.7,1435.6 1515,1435.3 1515.3,1435.5 1515.7,1437.1 1516,1435.8 1516.3,1439.1 1516.6,1436.2 1516.9,1435.5 1517.2,1438.9 1517.5,1434 1517.8,1432.2 1518.1,1433.5 1518.4,1430.7 1518.7,1433.5 1519,1435.1 1519.3,1434 1519.6,1432.5 1519.9,1433.7 1520.2,1435.6 1520.5,1437.5 1520.8,1434.9 1521.1,1435.2 1521.4,1438.2 1521.7,1436.6 1522,1436.7 1522.3,1436.9 1522.6,1434.3 1523,1435.4 1523.3,1437.7 1523.6,1435.6 1523.9,1435.8 1524.2,1437.3 1524.5,1438 1524.8,1442.7 1525.1,1437 1525.4,1439.3 1525.7,1443.4 1526,1440.1 1526.3,1441.2 1526.6,1438.3 1526.9,1443.2 1527.2,1443.4 1527.5,1443.6 1527.8,1442 1528.1,1443.3 1528.4,1442.7 1528.7,1444.5 1529,1443 1529.3,1444.6 1529.6,1440.7 1530,1442.6 1530.3,1437.9 1530.6,1442.7 1530.9,1444.2 1531.2,1442.2 1531.5,1446.7 1531.8,1440.4 1532.1,1441.4 1532.4,1440.1 1532.7,1440.7 1533,1440.7 1533.3,1438.7 1533.6,1439.6 1533.9,1445.1 1534.2,1440.9 1534.5,1443.1 1534.8,1439.1 1535.1,1441.3 1535.4,1442.5 1535.7,1441.3 1536,1440.7 1536.3,1441.4 1536.6,1441.8 1536.9,1443.4 1537.3,1444.1 1537.6,1439.7 1537.9,1438.5 1538.2,1442.1 1538.5,1442.6 1538.8,1444.2 1539.1,1445 1539.4,1442.2 1539.7,1447.4 1540,1444.3 1540.3,1440.9 1540.6,1446 1540.9,1444.9 1541.2,1445 1541.5,1441.5 1541.8,1443.7 1542.1,1444.3 1542.4,1443.4 1542.7,1444.5 1543,1445.1 1543.3,1445.1 1543.6,1444.1 1543.9,1441 1544.2,1443.9 1544.6,1440.8 1544.9,1441.5 1545.2,1439.2 1545.5,1436.9 1545.8,1435.1 1546.1,1439.6 1546.4,1438 1546.7,1439.2 1547,1441 1547.3,1436.6 1547.6,1436.3 1547.9,1440.1 1548.2,1440.4 1548.5,1439.4 1548.8,1439.2 1549.1,1437.5 1549.4,1440.7 1549.7,1439.9 1550,1442.6 1550.3,1444.1 1550.6,1442 1550.9,1444.5 1551.2,1444.7 1551.5,1446.2 1551.9,1448.3 1552.2,1447.2 1552.5,1447.6 1552.8,1448 1553.1,1446 1553.4,1446.8 1553.7,1447.3 1554,1448.8 1554.3,1448.6 1554.6,1450.1 1554.9,1443.6 1555.2,1445.1 1555.5,1441.6 1555.8,1443.4 1556.1,1441.1 1556.4,1445.9 1556.7,1445 1557,1441.5 1557.3,1444.1 1557.6,1444.8 1557.9,1446.7 1558.2,1445.1 1558.5,1443.9 1558.9,1443.6 1559.2,1445 1559.5,1444.5 1559.8,1443 1560.1,1441.6 1560.4,1445.6 1560.7,1442.2 1561,1442.9 1561.3,1444.6 1561.6,1442.9 1561.9,1444.8 1562.2,1440.6 1562.5,1443.8 1562.8,1440 1563.1,1439.6 1563.4,1440.4 1563.7,1442.5 1564,1441.1 1564.3,1439.8 1564.6,1444.4 1564.9,1440.4 1565.2,1441.8 1565.5,1442.3 1565.8,1440.8 1566.2,1442.2 1566.5,1442.5 1566.8,1441 1567.1,1442.9 1567.4,1440 1567.7,1439.1 1568,1441.4 1568.3,1439.4 1568.6,1442 1568.9,1441.3 1569.2,1440.9 1569.5,1443 1569.8,1443.1 1570.1,1436.9 1570.4,1441.8 1570.7,1442.8 1571,1443.4 1571.3,1441.6 1571.6,1440.4 1571.9,1442.6 1572.2,1443.5 1572.5,1438.5 1572.8,1439.4 1573.1,1440.9 1573.5,1437.3 1573.8,1440.8 1574.1,1443.4 1574.4,1440 1574.7,1442.2 1575,1440.3 1575.3,1442.7 1575.6,1443.1 1575.9,1444.2 1576.2,1441.9 1576.5,1443.5 1576.8,1442.1 1577.1,1440.4 1577.4,1443.7 1577.7,1439.7 1578,1440.9 1578.3,1444.9 1578.6,1441.9 1578.9,1438.8 1579.2,1440.9 1579.5,1439.5 1579.8,1440.3 1580.1,1438.1 1580.5,1441.4 1580.8,1438.4 1581.1,1442.2 1581.4,1442.4 1581.7,1443.5 1582,1446.1 1582.3,1439.3 1582.6,1440.2 1582.9,1440.7 1583.2,1441.5 1583.5,1444.2 1583.8,1442 1584.1,1441.5 1584.4,1440.6 1584.7,1441.5 1585,1442 1585.3,1442.7 1585.6,1440.4 1585.9,1443 1586.2,1444.3 1586.5,1444.1 1586.8,1441.4 1587.1,1445.2 1587.4,1445.3 1587.8,1444.4 1588.1,1441.6 1588.4,1441.2 1588.7,1443.8 1589,1441.8 1589.3,1441.1 1589.6,1445 1589.9,1444.9 1590.2,1444.2 1590.5,1445.3 1590.8,1444.4 1591.1,1440.5 1591.4,1444.6 1591.7,1442.7 1592,1443.3 1592.3,1445.4 1592.6,1443.5 1592.9,1445.7 1593.2,1443.2 1593.5,1442.6 1593.8,1442.3 1594.1,1443.5 1594.4,1440.8 1594.7,1443.9 1595.1,1443.8 1595.4,1443.1 1595.7,1440 1596,1440 1596.3,1445.1 1596.6,1441.9 1596.9,1446 1597.2,1442.1 1597.5,1443.9 1597.8,1440.6 1598.1,1442 1598.4,1442.7 1598.7,1444.2 1599,1446.2 1599.3,1445 1599.6,1440.6 1599.9,1443.3 1600.2,1442.9 1600.5,1442 1600.8,1444.1 1601.1,1445.6 1601.4,1441.7 1601.7,1444.2 1602.1,1444.3 1602.4,1439.4 1602.7,1444.2 1603,1443.6 1603.3,1440.7 1603.6,1443 1603.9,1440.1 1604.2,1441.6 1604.5,1440.6 1604.8,1437.8 1605.1,1440 1605.4,1439.3 1605.7,1438.9 1606,1437.9 1606.3,1438.8 1606.6,1438.2 1606.9,1442.7 1607.2,1437.1 1607.5,1440.9 1607.8,1439.7 1608.1,1438.5 1608.4,1442 1608.7,1439.1 1609,1442.7 1609.4,1440 1609.7,1440.9 1610,1439.9 1610.3,1441.3 1610.6,1441.8 1610.9,1439 1611.2,1439.7 1611.5,1442.8 1611.8,1438.1 1612.1,1442.2 1612.4,1437.6 1612.7,1436.8 1613,1434.2 1613.3,1435.6 1613.6,1433.8 1613.9,1436.2 1614.2,1439 1614.5,1438 1614.8,1437.5 1615.1,1437.1 1615.4,1438.2 1615.7,1437.1 1616,1437.6 1616.3,1443.9 1616.7,1440.7 1617,1438.5 1617.3,1441.4 1617.6,1442.8 1617.9,1438.6 1618.2,1439.5 1618.5,1437.2 1618.8,1436.6 1619.1,1442.4 1619.4,1446.5 1619.7,1438.9 1620,1437.5" fill="none" stroke="#9B6E2A" stroke-width="8.3" stroke-linecap="round" stroke-linejoin="round"/>
<path d="M332.9,1455.8 V1434 M407.8,1455.8 V1399.5 M429.4,1455.8 V1437 M490.4,1455.8 V1451 M497.5,1455.8 V1415.8 M571,1455.8 V1422.5 M591.5,1455.8 V1435.4 M606.2,1455.8 V1450 M620.5,1455.8 V1434 M726.7,1455.8 V1448.7 M739,1455.8 V1450.8 M790.4,1455.8 V1448.5 M820,1455.8 V1445 M827,1455.8 V1448.5 M842,1455.8 V1450 M878,1455.8 V1438 M889.5,1455.8 V1450 M946,1455.8 V1450 M996.5,1455.8 V1450 M1028.8,1455.8 V1446 M1043.7,1455.8 V1446 M1103.9,1455.8 V1450.8 M1200.4,1455.8 V1450.8 M1231.9,1455.8 V1450.8" fill="none" stroke="#8B0074" stroke-width="6.4"/><path d="M646.5,1455.8 V1452.9 M668.7,1455.8 V1452.9 M711.5,1455.8 V1452.9 M772,1455.8 V1452.9 M852.5,1455.8 V1452.6 M897,1455.8 V1452.9 M918,1455.8 V1452.6 M954.6,1455.8 V1452.6 M989,1455.8 V1452.6 M1012.4,1455.8 V1452.6 M1080.5,1455.8 V1452.6 M1130,1455.8 V1452.8 M1145.5,1455.8 V1452.8 M1158.4,1455.8 V1452.8 M1169,1455.8 V1452.8 M1188.9,1455.8 V1452.8 M1254,1455.8 V1452.8 M1275.2,1455.8 V1452.8 M1288,1455.8 V1452.8 M1336.6,1455.8 V1452.8 M1358.4,1455.8 V1452.8 M1377.3,1455.8 V1452.8 M1358.5,1455.8 V1452.8 M1377.4,1455.8 V1452.8 M1397.4,1455.8 V1452.8 M1418.7,1455.8 V1452.8 M1445,1455.8 V1452.2 M1466.5,1455.8 V1452.8 M1479.2,1455.8 V1452.8 M1511.1,1455.8 V1452.8 M1520.4,1455.8 V1452.8 M1545.2,1455.8 V1452.8 M1588.4,1455.8 V1452.8 M1613.7,1455.8 V1452.8" fill="none" stroke="#8B0074" stroke-width="8.6"/><path d="M331.9,1434.6 h3 M406.8,1400.1 h3 M428.4,1437.6 h3 M489.4,1451.6 h3 M496.5,1416.4 h3 M570,1423.1 h3 M590.5,1436 h3 M605.2,1450.6 h3 M619.5,1434.6 h3 M645.5,1453.9 h3 M667.7,1453.9 h3 M710.5,1453.9 h3 M725.7,1449.3 h3 M738,1451.4 h3 M771,1453.9 h3 M789.4,1449.1 h3 M819,1445.6 h3 M826,1449.1 h3 M841,1450.6 h3 M851.5,1453.6 h3 M877,1438.6 h3 M888.5,1450.6 h3 M896,1453.9 h3 M917,1453.6 h3 M945,1450.6 h3 M953.6,1453.6 h3 M988,1453.6 h3 M995.5,1450.6 h3 M1011.4,1453.6 h3 M1027.8,1446.6 h3 M1042.7,1446.6 h3 M1079.5,1453.6 h3 M1102.9,1451.4 h3 M1129,1453.8 h3 M1144.5,1453.8 h3 M1157.4,1453.8 h3 M1168,1453.8 h3 M1187.9,1453.8 h3 M1199.4,1451.4 h3 M1230.9,1451.4 h3 M1253,1453.8 h3 M1274.2,1453.8 h3 M1287,1453.8 h3 M1335.6,1453.8 h3 M1357.4,1453.8 h3 M1376.3,1453.8 h3 M1357.5,1453.8 h3 M1376.4,1453.8 h3 M1396.4,1453.8 h3 M1417.7,1453.8 h3 M1444,1453.2 h3 M1465.5,1453.8 h3 M1478.2,1453.8 h3 M1510.1,1453.8 h3 M1519.4,1453.8 h3 M1544.2,1453.8 h3 M1587.4,1453.8 h3 M1612.7,1453.8 h3" fill="none" stroke="#000" stroke-width="1.6" stroke-linecap="round"/>
<path d="M718,1003 H855.2" stroke="#9B6E2A" stroke-width="8" stroke-linecap="round"/>
<path d="M721,1086 H850" stroke="#8B0074" stroke-width="6"/>
<text transform="translate(882.6,1027) scale(1,1.014)" font-size="68.2" letter-spacing="0.22">VO@PEDOT after TGA</text>
<text transform="translate(880.7,1111) scale(1,1.017)" font-size="68.2" letter-spacing="-0.44">ICCD # 01-077-2418</text>
<text transform="translate(262.7,1031.5) scale(1,0.987)" font-size="68.2" letter-spacing="-0.30">(b)</text>
<text transform="translate(364.9,1537.5) scale(1,1.012)" font-size="68.2">20</text>
<text transform="translate(669.9,1537.5) scale(1,1.012)" font-size="68.2">40</text>
<text transform="translate(972.3,1537.5) scale(1,1.012)" font-size="68.2">60</text>
<text transform="translate(1277.4,1537.5) scale(1,1.012)" font-size="68.2">80</text>
<text transform="translate(1563.2,1537.5) scale(1,1.012)" font-size="68.2">100</text>
<text transform="translate(832.7,1656) scale(1,1.002)" font-size="80.6" letter-spacing="1.24">2θ (°)</text>
<text transform="translate(104.5,1443.8) rotate(-90) scale(1,0.993)" font-size="80.6" letter-spacing="0.33">Intensity (a.u.)</text>
</g>
</svg>
</body>
</html>
